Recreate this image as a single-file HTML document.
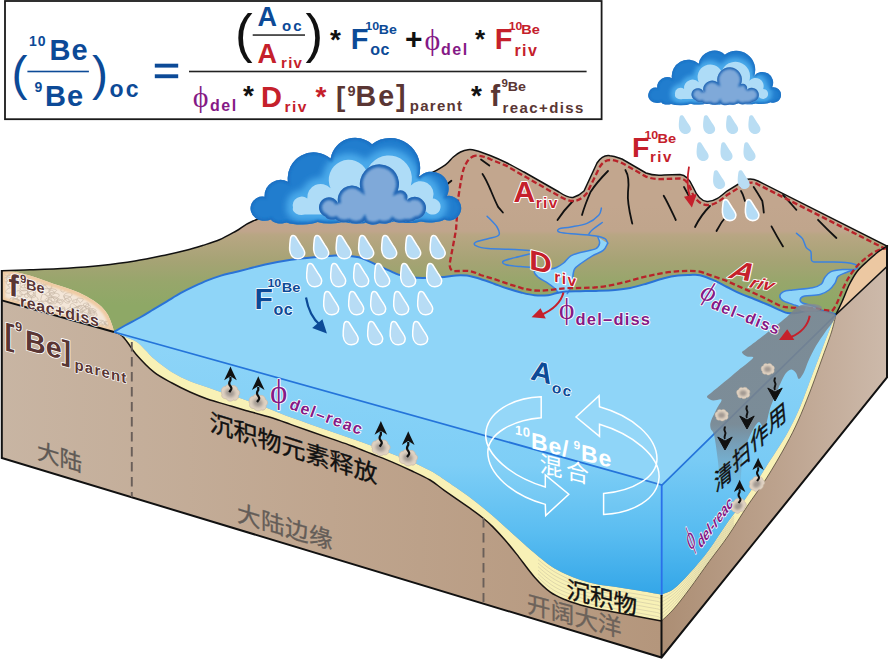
<!DOCTYPE html>
<html><head><meta charset="utf-8"><title>10Be/9Be ocean model</title>
<style>
html,body{margin:0;padding:0;background:#fff;}
body{width:889px;height:661px;overflow:hidden;}
svg{display:block;}
text{font-family:"Liberation Sans","Noto Sans CJK SC",sans-serif;}
.b{font-weight:bold;}
.bi{font-weight:bold;font-style:italic;}
.phi{font-family:"Liberation Serif","DejaVu Serif",serif;font-weight:normal;}
.ol{paint-order:stroke;stroke:#fff;stroke-width:2px;stroke-linejoin:round;}
.blue{fill:#0c4a97;} .red{fill:#c5202b;} .pur{fill:#851a86;} .brn{fill:#5a3634;}
</style></head><body>
<svg width="889" height="661" viewBox="0 0 889 661">
<defs>
<linearGradient id="gLand" gradientUnits="userSpaceOnUse" x1="0" y1="205" x2="0" y2="305">
<stop offset="0" stop-color="#c2a68e"/><stop offset="0.26" stop-color="#c0a58c"/><stop offset="0.3" stop-color="#b8a683"/><stop offset="0.57" stop-color="#a5a374"/><stop offset="0.77" stop-color="#97a66b"/><stop offset="1" stop-color="#8ea866"/></linearGradient>
<linearGradient id="gFront" gradientUnits="userSpaceOnUse" x1="0" y1="0" x2="662" y2="0">
<stop offset="0" stop-color="#c8b5a3"/><stop offset="0.5" stop-color="#bfa58e"/><stop offset="1" stop-color="#b4967c"/></linearGradient>
<linearGradient id="gRight" gradientUnits="userSpaceOnUse" x1="662" y1="0" x2="889" y2="0">
<stop offset="0" stop-color="#ac8e74"/><stop offset="0.5" stop-color="#bca28d"/><stop offset="1" stop-color="#cdbaab"/></linearGradient>
<linearGradient id="gWaterF" gradientUnits="userSpaceOnUse" x1="0" y1="330" x2="0" y2="600">
<stop offset="0" stop-color="#8fd5f8"/><stop offset="0.5" stop-color="#7ecef6"/><stop offset="0.75" stop-color="#5abdf1"/><stop offset="1" stop-color="#30a4e7"/></linearGradient>
<linearGradient id="gWaterR" gradientUnits="userSpaceOnUse" x1="0" y1="320" x2="0" y2="600">
<stop offset="0" stop-color="#8fd5f8"/><stop offset="0.5" stop-color="#79cbf5"/><stop offset="0.78" stop-color="#54baf0"/><stop offset="1" stop-color="#30a4e7"/></linearGradient>
<linearGradient id="gPlume" gradientUnits="userSpaceOnUse" x1="0" y1="300" x2="0" y2="500">
<stop offset="0" stop-color="#7a838b" stop-opacity="0.9"/><stop offset="0.62" stop-color="#7a838b" stop-opacity="0.88"/><stop offset="0.76" stop-color="#708090" stop-opacity="0.5"/><stop offset="0.95" stop-color="#6c8290" stop-opacity="0"/></linearGradient>
<filter id="bl2" x="-20%" y="-20%" width="140%" height="140%"><feGaussianBlur stdDeviation="2.2"/></filter>
<filter id="bl3" x="-20%" y="-20%" width="140%" height="140%"><feGaussianBlur stdDeviation="3.2"/></filter>
<filter id="bl1" x="-20%" y="-20%" width="140%" height="140%"><feGaussianBlur stdDeviation="1.3"/></filter>
<path id="drop" d="M-4.1,-11.5 C-2.8,-11.6 -1.8,-11 -1.2,-10 L3.7,-2.2 C6,1 7.8,3.5 7.7,5.9 C7.6,9.5 4.5,11.8 0.8,11.8 C-3,11.8 -6.6,9 -7.3,3 C-7.6,-1 -7,-5 -6.6,-8 C-6.4,-10 -5.6,-11.4 -4.1,-11.5 Z"/>
<g id="upArr"><path d="M0,0 c2,-2.6 3,-3.4 1.2,-5.6 c-1.9,-2.2 -1.6,-3.8 0,-5.8 l0,-3" fill="none" stroke="#111" stroke-width="2.1"/><path d="M-4.8,-11.5 C-3.5,-15 -0.5,-20 1.2,-24.5 C2.9,-20 5.9,-15 7.2,-11.5 L1.2,-15.2 Z" fill="#111"/></g>
<g id="dnArr"><path d="M0,-10 c-2.2,-3 2.2,-4.5 0,-7.5 c-1.6,-2.2 0,-3.4 0,-5" fill="none" stroke="#111" stroke-width="2"/><path d="M-7.2,-12 L0,-8 L7.2,-12 L0,1 Z" fill="#111" stroke="#111" stroke-width="1" stroke-linejoin="miter"/></g>
<g id="rock"><path d="M-8,0.5 C-9,-2 -7.5,-4.5 -5.5,-4.6 C-5.5,-7 -2.5,-8 -0.5,-6.6 C1.5,-8.2 5,-7.4 5.4,-4.8 C8,-4.6 9,-1.6 7.6,0.4 C8.8,3 6.8,5.6 4.2,5.2 C3,7.4 -0.8,7.6 -2,5.6 C-4.6,6.8 -7.4,5 -6.8,2.6 C-7.6,2.2 -8,1.4 -8,0.5 Z" fill="#e0d2c2" stroke="#cbb9a6" stroke-width="0.6"/><ellipse cx="-0.2" cy="-0.2" rx="4.4" ry="3.6" fill="#a39a93" filter="url(#bl1)"/></g>
<path id="cBack" d="M255.5,218 A11.8,11.8 0 0 1 264.6,196.8 A16,16 0 0 1 287.9,181.7 A26,26 0 0 1 330.6,158.5 A25,25 0 0 1 372,144.2 A30,30 0 0 1 418.5,177.9 A17,17 0 0 1 447,196 A12.3,12.3 0 1 1 444.4,219.6 A16,5 0 0 1 421,221.6 A17,5 0 0 1 395,221 A17,5 0 0 1 369.4,222 A17,5 0 0 1 343.5,221.5 A17,5 0 0 1 317.6,222 A19,5.5 0 0 1 286.6,222.5 A10,5 0 0 1 271,219.6 A10,5 0 0 1 255.5,218 Z"/>
<path id="cMid" d="M293,207.6 A9,9 0 0 1 307.3,198.6 A13.5,13.5 0 0 1 330.6,188.2 A18.5,18.5 0 0 1 366.8,171.4 A22.5,22.5 0 0 1 410.8,185.6 A13,13 0 0 1 432.8,198.6 A8,8 0 1 1 426.3,211.5 L420,214 L305,214.5 A9,6 0 0 1 293,207.6 Z"/>
<path id="cFront" d="M325.4,216.7 A10,10 0 1 1 338.3,203.7 A14.2,14.2 0 0 1 360.3,188.2 A19.6,19.6 0 1 1 397.8,190.8 A7,7 0 0 1 406.9,199.9 A11.3,11.3 0 1 1 415.9,219.3 A9,5 0 0 1 405.6,221.8 A9,5 0 0 1 392.7,220.6 A9,5 0 0 1 379.7,223 A9,5 0 0 1 364.2,220.6 A9,5 0 0 1 348.7,221.8 A9,5 0 0 1 335.7,219.3 A7,4 0 0 1 325.4,216.7 Z"/>
<clipPath id="clBack"><use href="#cBack"/></clipPath>
<clipPath id="clFront"><use href="#cFront"/></clipPath>
<g id="cloud">
 <use href="#cBack" fill="#217dce"/>
 <g clip-path="url(#clBack)"><use href="#cMid" fill="#48a9ea" stroke="#48a9ea" stroke-width="13" stroke-linejoin="round" filter="url(#bl3)"/>
 <use href="#cBack" fill="none" stroke="#1a6fc2" stroke-width="4" filter="url(#bl1)"/></g>
 <use href="#cMid" fill="#aedcf7"/>
 <use href="#cFront" fill="#7fa9d9"/>
 <g clip-path="url(#clFront)"><use href="#cFront" fill="none" stroke="#2468b6" stroke-width="6" filter="url(#bl1)"/></g>
</g>
</defs>
<rect width="889" height="661" fill="#fff"/>

<path d="M662,485 L836,314.5 L887,262 L887,377.5 L661.5,657.5 Z" fill="url(#gRight)"/>
<path d="M887,246 C885.5,247.0 881.2,249.5 878.0,252.0 C874.8,254.5 871.1,257.8 867.6,261.0 C864.1,264.2 860.3,267.4 857.3,271.2 C854.3,275.0 852.2,278.9 849.6,284.0 C847.0,289.1 844.2,296.9 841.9,302.0 C839.6,307.1 837.0,312.4 836.0,314.5  L887,266.5 Z" fill="#ecc8a2"/>
<path d="M887,266.5 L836,314.5" stroke="#111" stroke-width="1.6" fill="none"/>
<path d="M661.5,594.5 C663.5,593.6 669.1,592.5 673.7,589.0 C678.4,585.5 683.5,580.1 689.4,573.6 C695.3,567.1 702.6,558.6 709.0,550.0 C715.4,541.4 721.7,530.9 728.0,522.0 C734.3,513.1 740.7,505.8 747.0,496.6 C753.3,487.4 759.5,477.2 766.0,467.0 C772.5,456.8 780.7,444.7 786.0,435.5 C791.3,426.3 794.2,420.2 798.0,411.8 C801.8,403.4 804.7,395.0 808.5,385.0 C812.3,375.0 817.5,361.2 821.0,352.0 C824.5,342.8 827.0,336.2 829.5,330.0 C832.0,323.8 834.9,317.1 836.0,314.5  L836.0,314.5 C835.2,317.4 833.7,325.1 831.5,332.0 C829.3,338.9 826.7,345.8 823.0,356.0 C819.3,366.2 813.7,382.2 809.5,393.0 C805.3,403.8 801.9,412.3 798.0,421.0 C794.1,429.7 791.3,435.3 786.0,445.0 C780.7,454.7 772.5,468.8 766.0,479.0 C759.5,489.2 753.3,497.0 747.0,506.5 C740.7,516.0 734.3,526.8 728.0,536.0 C721.7,545.2 715.4,552.9 709.0,561.7 C702.6,570.5 695.3,581.1 689.4,589.0 C683.5,596.9 678.4,603.7 673.7,609.0 C669.1,614.3 663.5,619.0 661.5,621.0  Z" fill="#f8f1b6"/>
<path d="M661.5,621.0 C663.5,619.0 669.1,614.3 673.7,609.0 C678.4,603.7 683.5,596.9 689.4,589.0 C695.3,581.1 702.6,570.5 709.0,561.7 C715.4,552.9 721.7,545.2 728.0,536.0 C734.3,526.8 740.7,516.0 747.0,506.5 C753.3,497.0 759.5,489.2 766.0,479.0 C772.5,468.8 780.7,454.7 786.0,445.0 C791.3,435.3 794.1,429.7 798.0,421.0 C801.9,412.3 805.3,403.8 809.5,393.0 C813.7,382.2 819.3,366.2 823.0,356.0 C826.7,345.8 829.3,338.9 831.5,332.0 C833.7,325.1 835.2,317.4 836.0,314.5 " fill="none" stroke="#3a2f25" stroke-width="0.9" stroke-opacity="0.75"/>
<path d="M661.5,594.5 C663.5,593.6 669.1,592.5 673.7,589.0 C678.4,585.5 683.5,580.1 689.4,573.6 C695.3,567.1 702.6,558.6 709.0,550.0 C715.4,541.4 721.7,530.9 728.0,522.0 C734.3,513.1 740.7,505.8 747.0,496.6 C753.3,487.4 759.5,477.2 766.0,467.0 C772.5,456.8 780.7,444.7 786.0,435.5 C791.3,426.3 794.2,420.2 798.0,411.8 C801.8,403.4 804.7,395.0 808.5,385.0 C812.3,375.0 817.5,361.2 821.0,352.0 C824.5,342.8 827.0,336.2 829.5,330.0 C832.0,323.8 834.9,317.1 836.0,314.5  L662,485 Z" fill="url(#gWaterR)"/>
<path d="M1.8,270.7 L1.8,458 L661.5,657.5 L662,485 L114,332 Z" fill="url(#gFront)"/>
<path d="M114.0,332.0 C115.6,332.7 119.7,334.6 123.4,336.2 C127.1,337.8 132.4,339.4 136.0,341.6 C139.6,343.9 142.0,346.9 145.0,349.7 C148.0,352.5 149.5,354.9 154.0,358.7 C158.5,362.4 166.0,368.4 172.0,372.2 C178.0,375.9 184.0,378.6 190.0,381.2 C196.0,383.8 202.0,385.4 208.0,387.5 C214.0,389.6 220.0,391.8 226.0,393.8 C232.0,395.8 236.6,396.9 244.0,399.5 C251.4,402.1 262.4,406.2 270.2,409.2 C277.9,412.2 283.8,414.8 290.5,417.3 C297.2,419.8 303.9,422.0 310.7,424.4 C317.4,426.8 324.2,429.1 331.0,431.5 C337.8,433.9 344.4,436.2 351.2,438.6 C357.9,441.0 364.8,443.2 371.5,445.7 C378.2,448.2 384.9,451.1 391.7,453.8 C398.4,456.5 405.6,459.1 412.0,461.9 C418.4,464.7 424.6,467.6 430.0,470.5 C435.4,473.4 437.8,475.1 444.2,479.4 C450.6,483.7 460.3,490.2 468.4,496.3 C476.5,502.4 484.5,508.8 492.6,515.7 C500.7,522.6 509.7,531.2 516.8,537.5 C523.9,543.8 529.4,548.9 535.0,553.6 C540.6,558.3 545.2,562.3 550.3,565.7 C555.4,569.1 560.4,571.6 565.4,574.0 C570.4,576.4 575.5,578.4 580.5,580.0 C585.5,581.6 590.6,582.9 595.6,583.9 C600.6,584.9 604.2,585.3 610.8,586.3 C617.4,587.3 626.5,588.6 635.0,590.0 C643.5,591.4 657.1,593.8 661.5,594.5  L661.5,621.0 C657.1,620.2 643.5,617.6 635.0,616.0 C626.5,614.4 617.4,612.7 610.8,611.5 C604.2,610.3 600.6,609.9 595.6,608.8 C590.6,607.7 585.5,606.5 580.5,605.0 C575.5,603.5 570.4,601.9 565.4,599.8 C560.4,597.7 555.4,595.9 550.3,592.2 C545.2,588.5 540.6,584.1 535.0,577.8 C529.4,571.5 521.8,560.7 516.8,554.4 C511.8,548.1 509.0,544.6 505.0,540.0 C501.0,535.4 496.3,530.3 492.6,526.6 C488.9,522.9 487.0,521.2 483.0,518.0 C479.0,514.8 474.9,511.8 468.4,507.2 C461.9,502.6 450.6,494.8 444.2,490.3 C437.8,485.8 435.4,483.2 430.0,480.0 C424.6,476.8 418.4,474.0 412.0,471.0 C405.6,468.0 398.4,464.8 391.7,461.9 C384.9,459.0 378.2,456.5 371.5,453.8 C364.8,451.1 357.9,448.2 351.2,445.7 C344.4,443.2 337.8,441.0 331.0,438.6 C324.2,436.2 317.4,433.9 310.7,431.5 C303.9,429.1 297.2,426.8 290.5,424.4 C283.8,422.0 277.9,419.7 270.2,417.3 C262.4,414.9 251.4,412.1 244.0,410.0 C236.6,407.9 232.0,406.4 226.0,404.6 C220.0,402.8 214.0,401.3 208.0,399.2 C202.0,397.1 196.0,394.7 190.0,392.0 C184.0,389.3 178.0,386.3 172.0,383.0 C166.0,379.7 160.0,377.0 154.0,372.2 C148.0,367.4 140.3,359.1 136.0,354.2 C131.7,349.3 130.4,346.1 128.0,343.0 C125.6,339.9 123.9,337.1 121.6,335.3 C119.3,333.5 115.3,332.6 114.0,332.0  Z" fill="#f8f1b6"/>
<path d="M114.0,332.0 C115.3,332.6 119.3,333.5 121.6,335.3 C123.9,337.1 125.6,339.9 128.0,343.0 C130.4,346.1 131.7,349.3 136.0,354.2 C140.3,359.1 148.0,367.4 154.0,372.2 C160.0,377.0 166.0,379.7 172.0,383.0 C178.0,386.3 184.0,389.3 190.0,392.0 C196.0,394.7 202.0,397.1 208.0,399.2 C214.0,401.3 220.0,402.8 226.0,404.6 C232.0,406.4 236.6,407.9 244.0,410.0 C251.4,412.1 262.4,414.9 270.2,417.3 C277.9,419.7 283.8,422.0 290.5,424.4 C297.2,426.8 303.9,429.1 310.7,431.5 C317.4,433.9 324.2,436.2 331.0,438.6 C337.8,441.0 344.4,443.2 351.2,445.7 C357.9,448.2 364.8,451.1 371.5,453.8 C378.2,456.5 384.9,459.0 391.7,461.9 C398.4,464.8 405.6,468.0 412.0,471.0 C418.4,474.0 424.6,476.8 430.0,480.0 C435.4,483.2 437.8,485.8 444.2,490.3 C450.6,494.8 461.9,502.6 468.4,507.2 C474.9,511.8 479.0,514.8 483.0,518.0 C487.0,521.2 488.9,522.9 492.6,526.6 C496.3,530.3 501.0,535.4 505.0,540.0 C509.0,544.6 511.8,548.1 516.8,554.4 C521.8,560.7 529.4,571.5 535.0,577.8 C540.6,584.1 545.2,588.5 550.3,592.2 C555.4,595.9 560.4,597.7 565.4,599.8 C570.4,601.9 575.5,603.5 580.5,605.0 C585.5,606.5 590.6,607.7 595.6,608.8 C600.6,609.9 604.2,610.3 610.8,611.5 C617.4,612.7 626.5,614.4 635.0,616.0 C643.5,617.6 657.1,620.2 661.5,621.0 " fill="none" stroke="#1a1512" stroke-width="1.5"/>
<path d="M114.0,332.0 C115.6,332.7 119.7,334.6 123.4,336.2 C127.1,337.8 132.4,339.4 136.0,341.6 C139.6,343.9 142.0,346.9 145.0,349.7 C148.0,352.5 149.5,354.9 154.0,358.7 C158.5,362.4 166.0,368.4 172.0,372.2 C178.0,375.9 184.0,378.6 190.0,381.2 C196.0,383.8 202.0,385.4 208.0,387.5 C214.0,389.6 220.0,391.8 226.0,393.8 C232.0,395.8 236.6,396.9 244.0,399.5 C251.4,402.1 262.4,406.2 270.2,409.2 C277.9,412.2 283.8,414.8 290.5,417.3 C297.2,419.8 303.9,422.0 310.7,424.4 C317.4,426.8 324.2,429.1 331.0,431.5 C337.8,433.9 344.4,436.2 351.2,438.6 C357.9,441.0 364.8,443.2 371.5,445.7 C378.2,448.2 384.9,451.1 391.7,453.8 C398.4,456.5 405.6,459.1 412.0,461.9 C418.4,464.7 424.6,467.6 430.0,470.5 C435.4,473.4 437.8,475.1 444.2,479.4 C450.6,483.7 460.3,490.2 468.4,496.3 C476.5,502.4 484.5,508.8 492.6,515.7 C500.7,522.6 509.7,531.2 516.8,537.5 C523.9,543.8 529.4,548.9 535.0,553.6 C540.6,558.3 545.2,562.3 550.3,565.7 C555.4,569.1 560.4,571.6 565.4,574.0 C570.4,576.4 575.5,578.4 580.5,580.0 C585.5,581.6 590.6,582.9 595.6,583.9 C600.6,584.9 604.2,585.3 610.8,586.3 C617.4,587.3 626.5,588.6 635.0,590.0 C643.5,591.4 657.1,593.8 661.5,594.5  L662,485 Z" fill="url(#gWaterF)"/>
<g fill="none" stroke="#c4bd9e" stroke-width="0.5">
<path d="M538.0,559.5 C539.3,560.6 543.3,564.0 546.0,566.0 C548.7,568.0 551.3,569.9 554.0,571.5 C556.7,573.1 559.3,574.5 562.0,575.8 C564.7,577.2 567.3,578.4 570.0,579.5 C572.7,580.6 575.3,581.7 578.0,582.6 C580.7,583.5 583.3,584.2 586.0,585.0 C588.7,585.7 591.3,586.5 594.0,587.0 C596.7,587.6 599.3,588.0 602.0,588.5 C604.7,588.9 607.3,589.3 610.0,589.8 C612.7,590.2 615.3,590.6 618.0,591.0 C620.7,591.5 623.3,591.9 626.0,592.3 C628.7,592.7 631.3,593.1 634.0,593.6 C636.7,594.0 639.3,594.5 642.0,594.9 C644.7,595.4 647.3,595.8 650.0,596.3 C652.7,596.8 656.1,597.4 658.0,597.7 C659.9,598.0 659.5,598.9 661.5,598.3 C663.5,597.6 667.2,595.6 670.0,593.8 C672.8,592.0 675.3,589.9 678.0,587.5 C680.7,585.0 683.3,582.2 686.0,579.3 C688.7,576.4 691.3,573.3 694.0,570.1 C696.7,567.0 699.3,563.6 702.0,560.3 C704.7,557.0 707.3,553.8 710.0,550.2 C712.7,546.6 715.3,542.4 718.0,538.6 C720.7,534.7 723.3,530.7 726.0,526.9 C728.7,523.1 732.7,517.6 734.0,515.8 "/>
<path d="M538.0,563.0 C539.3,564.1 543.3,567.6 546.0,569.7 C548.7,571.7 551.3,573.6 554.0,575.3 C556.7,576.9 559.3,578.2 562.0,579.5 C564.7,580.9 567.3,582.0 570.0,583.1 C572.7,584.2 575.3,585.3 578.0,586.2 C580.7,587.1 583.3,587.8 586.0,588.6 C588.7,589.3 591.3,590.0 594.0,590.6 C596.7,591.2 599.3,591.6 602.0,592.1 C604.7,592.5 607.3,592.9 610.0,593.4 C612.7,593.8 615.3,594.2 618.0,594.7 C620.7,595.1 623.3,595.5 626.0,596.0 C628.7,596.4 631.3,596.8 634.0,597.3 C636.7,597.7 639.3,598.2 642.0,598.7 C644.7,599.1 647.3,599.6 650.0,600.1 C652.7,600.5 656.1,601.1 658.0,601.5 C659.9,601.8 659.5,602.8 661.5,602.1 C663.5,601.3 667.2,598.9 670.0,596.9 C672.8,595.0 675.3,592.7 678.0,590.1 C680.7,587.6 683.3,584.6 686.0,581.6 C688.7,578.6 691.3,575.5 694.0,572.2 C696.7,569.0 699.3,565.5 702.0,562.1 C704.7,558.8 707.3,555.5 710.0,551.9 C712.7,548.3 715.3,544.2 718.0,540.4 C720.7,536.6 723.3,532.7 726.0,528.9 C728.7,525.1 732.7,519.5 734.0,517.6 "/>
<path d="M538.0,566.5 C539.3,567.7 543.3,571.3 546.0,573.4 C548.7,575.5 551.3,577.4 554.0,579.0 C556.7,580.7 559.3,582.0 562.0,583.3 C564.7,584.5 567.3,585.7 570.0,586.8 C572.7,587.9 575.3,588.9 578.0,589.8 C580.7,590.7 583.3,591.4 586.0,592.1 C588.7,592.9 591.3,593.6 594.0,594.2 C596.7,594.7 599.3,595.2 602.0,595.6 C604.7,596.1 607.3,596.5 610.0,597.0 C612.7,597.4 615.3,597.9 618.0,598.3 C620.7,598.7 623.3,599.2 626.0,599.6 C628.7,600.1 631.3,600.5 634.0,601.0 C636.7,601.4 639.3,601.9 642.0,602.4 C644.7,602.9 647.3,603.3 650.0,603.8 C652.7,604.3 656.1,604.9 658.0,605.2 C659.9,605.6 659.5,606.7 661.5,605.9 C663.5,605.0 667.2,602.3 670.0,600.1 C672.8,597.9 675.3,595.5 678.0,592.8 C680.7,590.1 683.3,587.0 686.0,584.0 C688.7,580.9 691.3,577.6 694.0,574.3 C696.7,571.0 699.3,567.5 702.0,564.0 C704.7,560.6 707.3,557.2 710.0,553.6 C712.7,550.0 715.3,546.0 718.0,542.2 C720.7,538.4 723.3,534.6 726.0,530.8 C728.7,527.0 732.7,521.3 734.0,519.4 "/>
<path d="M538.0,570.1 C539.3,571.2 543.3,575.0 546.0,577.1 C548.7,579.2 551.3,581.1 554.0,582.8 C556.7,584.4 559.3,585.7 562.0,587.0 C564.7,588.2 567.3,589.4 570.0,590.4 C572.7,591.5 575.3,592.5 578.0,593.4 C580.7,594.2 583.3,595.0 586.0,595.7 C588.7,596.4 591.3,597.1 594.0,597.7 C596.7,598.3 599.3,598.7 602.0,599.2 C604.7,599.7 607.3,600.1 610.0,600.6 C612.7,601.0 615.3,601.5 618.0,601.9 C620.7,602.4 623.3,602.9 626.0,603.3 C628.7,603.8 631.3,604.2 634.0,604.7 C636.7,605.2 639.3,605.6 642.0,606.1 C644.7,606.6 647.3,607.1 650.0,607.6 C652.7,608.0 656.1,608.7 658.0,609.0 C659.9,609.4 659.5,610.6 661.5,609.6 C663.5,608.7 667.2,605.6 670.0,603.2 C672.8,600.9 675.3,598.3 678.0,595.5 C680.7,592.7 683.3,589.5 686.0,586.3 C688.7,583.1 691.3,579.8 694.0,576.4 C696.7,573.0 699.3,569.4 702.0,565.9 C704.7,562.4 707.3,558.9 710.0,555.3 C712.7,551.6 715.3,547.8 718.0,544.0 C720.7,540.3 723.3,536.6 726.0,532.8 C728.7,529.0 732.7,523.2 734.0,521.2 "/>
<path d="M538.0,573.6 C539.3,574.8 543.3,578.6 546.0,580.8 C548.7,582.9 551.3,584.9 554.0,586.5 C556.7,588.2 559.3,589.4 562.0,590.7 C564.7,591.9 567.3,593.0 570.0,594.1 C572.7,595.1 575.3,596.1 578.0,597.0 C580.7,597.8 583.3,598.5 586.0,599.3 C588.7,600.0 591.3,600.7 594.0,601.3 C596.7,601.9 599.3,602.3 602.0,602.8 C604.7,603.3 607.3,603.7 610.0,604.2 C612.7,604.6 615.3,605.1 618.0,605.6 C620.7,606.0 623.3,606.5 626.0,607.0 C628.7,607.5 631.3,607.9 634.0,608.4 C636.7,608.9 639.3,609.4 642.0,609.9 C644.7,610.3 647.3,610.8 650.0,611.3 C652.7,611.8 656.1,612.4 658.0,612.8 C659.9,613.1 659.5,614.5 661.5,613.4 C663.5,612.4 667.2,608.9 670.0,606.4 C672.8,603.8 675.3,601.1 678.0,598.2 C680.7,595.2 683.3,591.9 686.0,588.6 C688.7,585.4 691.3,581.9 694.0,578.4 C696.7,575.0 699.3,571.3 702.0,567.7 C704.7,564.2 707.3,560.6 710.0,557.0 C712.7,553.3 715.3,549.6 718.0,545.9 C720.7,542.2 723.3,538.6 726.0,534.8 C728.7,531.0 732.7,525.0 734.0,523.1 "/>
<path d="M538.0,577.1 C539.3,578.3 543.3,582.3 546.0,584.5 C548.7,586.7 551.3,588.6 554.0,590.3 C556.7,592.0 559.3,593.1 562.0,594.4 C564.7,595.6 567.3,596.7 570.0,597.7 C572.7,598.8 575.3,599.7 578.0,600.5 C580.7,601.4 583.3,602.1 586.0,602.8 C588.7,603.5 591.3,604.2 594.0,604.8 C596.7,605.4 599.3,605.9 602.0,606.4 C604.7,606.8 607.3,607.3 610.0,607.8 C612.7,608.2 615.3,608.7 618.0,609.2 C620.7,609.7 623.3,610.2 626.0,610.7 C628.7,611.1 631.3,611.6 634.0,612.1 C636.7,612.6 639.3,613.1 642.0,613.6 C644.7,614.1 647.3,614.6 650.0,615.1 C652.7,615.6 656.1,616.2 658.0,616.6 C659.9,616.9 659.5,618.4 661.5,617.2 C663.5,616.0 667.2,612.2 670.0,609.5 C672.8,606.8 675.3,603.9 678.0,600.8 C680.7,597.8 683.3,594.4 686.0,591.0 C688.7,587.6 691.3,584.1 694.0,580.5 C696.7,577.0 699.3,573.2 702.0,569.6 C704.7,565.9 707.3,562.3 710.0,558.7 C712.7,555.0 715.3,551.4 718.0,547.7 C720.7,544.0 723.3,540.5 726.0,536.7 C728.7,532.9 732.7,526.8 734.0,524.9 "/>
</g>
<path d="M1.8,270.7 C6.5,270.6 19.0,270.2 30.0,269.8 C41.0,269.4 55.7,268.9 67.5,268.2 C79.3,267.5 89.8,266.7 101.0,265.5 C112.2,264.3 124.0,262.8 135.0,261.0 C146.0,259.2 158.3,256.5 167.0,254.7 C175.7,252.9 181.3,251.5 187.2,250.0 C193.1,248.5 197.1,247.2 202.5,245.5 C207.9,243.8 213.8,242.2 219.4,239.8 C225.0,237.4 230.6,234.1 236.2,231.0 C241.8,227.9 242.4,225.5 253.0,221.0 C263.6,216.5 283.8,208.8 300.0,204.0 C316.2,199.2 333.3,195.7 350.0,192.0 C366.7,188.3 386.9,185.0 400.0,182.0 C413.1,179.0 421.1,176.8 428.7,173.9 C436.3,171.0 441.3,167.6 445.4,164.8 C449.4,162.0 450.5,159.3 453.0,157.2 C455.5,155.1 458.0,153.2 460.5,152.0 C463.0,150.8 465.5,150.0 468.0,149.7 C470.5,149.4 471.8,149.4 475.6,150.4 C479.4,151.4 485.7,153.7 490.8,155.7 C495.9,157.7 500.5,159.8 506.0,162.5 C511.5,165.2 521.0,170.4 524.0,172.0  L559,192 C565,196 570,198 573,197.5 C578,196 581,194 584,191 L597,163 C601,157 606,155 610,155.7 C615,156 619,158 622,159 L646,173 C652,175.5 658,175.5 664,175 L680,174.5 C686,175 690,180 693,187 C696,194 700,201 707,201.5 C714,202 720,197 727,191 L745,180 C750,178 754,179 758,181 L887,246 C885.5,247.0 881.2,249.5 878.0,252.0 C874.8,254.5 871.1,257.8 867.6,261.0 C864.1,264.2 860.3,267.4 857.3,271.2 C854.3,275.0 852.2,278.9 849.6,284.0 C847.0,289.1 844.2,296.9 841.9,302.0 C839.6,307.1 837.0,312.4 836.0,314.5  L114,332 Z" fill="url(#gLand)"/>
<path d="M114.0,332.0 C115.8,330.9 120.7,327.9 125.0,325.5 C129.3,323.1 135.2,320.2 140.0,317.5 C144.8,314.8 149.0,312.1 153.5,309.4 C158.0,306.7 162.5,304.0 167.0,301.3 C171.5,298.6 176.0,295.7 180.5,293.2 C185.0,290.7 189.5,288.5 194.0,286.4 C198.5,284.3 203.0,282.2 207.5,280.4 C212.0,278.6 216.5,277.0 221.0,275.6 C225.5,274.2 230.0,273.4 234.5,272.3 C239.0,271.2 242.9,270.2 248.0,268.9 C253.1,267.6 258.0,266.0 265.2,264.5 C272.4,263.0 282.4,261.1 291.0,259.8 C299.6,258.6 309.7,257.7 317.0,257.0 C324.3,256.3 330.2,255.7 335.0,255.5 C339.8,255.3 341.3,255.3 345.7,255.7 C350.1,256.1 356.2,256.5 361.5,258.1 C366.8,259.7 371.9,262.8 377.2,265.2 C382.4,267.6 389.0,270.6 393.0,272.3 C397.0,274.0 397.1,274.5 401.0,275.4 C404.9,276.3 410.1,277.5 416.6,277.8 C423.1,278.1 433.4,277.7 440.0,277.3 C446.6,276.9 451.5,275.8 456.0,275.5 C460.5,275.2 464.1,275.4 467.0,275.6 C469.9,275.9 471.4,276.4 473.7,277.0 C475.9,277.6 477.1,277.9 480.5,279.0 C483.9,280.1 489.5,282.1 494.0,283.7 C498.5,285.3 503.0,287.0 507.5,288.5 C512.0,290.0 516.5,291.4 521.0,292.5 C525.5,293.6 530.0,294.8 534.5,295.2 C539.0,295.6 544.4,295.5 548.0,295.2 C551.6,294.9 553.0,293.8 556.0,293.2 C559.0,292.6 562.0,291.8 566.0,291.5 C570.0,291.2 575.0,291.3 580.0,291.2 C585.0,291.1 590.2,291.1 596.0,290.9 C601.8,290.7 609.3,290.5 615.0,290.0 C620.7,289.5 624.7,289.1 630.0,288.0 C635.3,286.9 641.3,285.1 647.0,283.5 C652.7,281.9 658.8,279.5 664.0,278.2 C669.2,276.9 673.7,276.1 678.0,275.6 C682.3,275.1 686.3,275.1 690.0,275.0 C693.7,274.9 696.1,274.3 700.0,275.2 C703.9,276.1 709.0,278.2 713.5,280.2 C718.0,282.2 722.5,284.8 727.0,287.0 C731.5,289.2 736.0,291.7 740.5,293.7 C745.0,295.7 749.5,297.2 754.0,299.0 C758.5,300.8 763.0,302.6 767.5,304.5 C772.0,306.4 777.6,309.2 781.0,310.6 C784.4,312.0 785.2,312.6 787.7,313.0 C790.2,313.4 793.1,313.3 796.0,313.0 C798.9,312.7 802.3,311.6 805.0,311.2 C807.7,310.8 809.5,310.8 812.0,310.6 C814.5,310.5 817.3,310.1 820.0,310.3 C822.7,310.5 825.3,311.3 828.0,312.0 C830.7,312.7 834.7,314.1 836.0,314.5  L662,485 L114,332 Z" fill="#8fd5f8"/>
<g fill="none" stroke="#3b82e0" stroke-width="1.5" stroke-linecap="round" stroke-linejoin="round">
<path d="M487.1,216.2 C488.8,218.0 495.1,223.8 497.0,227.0 C498.9,230.2 500.3,233.2 498.8,235.1 C497.3,237.0 491.9,237.5 488.0,238.7 C484.1,239.9 477.3,241.1 475.4,242.3 C473.4,243.5 474.2,244.9 476.3,245.9 C478.4,246.9 481.6,248.0 488.0,248.6 C494.4,249.2 508.1,249.2 515.0,249.5 C521.9,249.8 527.0,250.2 529.4,250.4 "/>
<path d="M529.4,254.0 C527.0,254.6 519.4,256.4 515.0,257.6 C510.6,258.8 504.8,260.0 503.3,261.2 C501.8,262.4 503.1,263.9 506.0,264.8 C508.9,265.7 515.9,266.2 520.4,266.6 C524.9,267.1 530.3,266.6 533.0,267.5 C535.7,268.4 536.0,271.2 536.6,272.0 "/>
<path d="M601.4,208.1 C601.0,209.3 601.1,212.8 598.7,215.3 C596.3,217.9 591.6,221.5 587.0,223.4 C582.4,225.3 575.5,226.1 570.8,227.0 C566.1,227.9 560.8,227.9 559.0,228.8 C557.2,229.7 556.8,231.5 560.0,232.4 C563.2,233.3 572.0,233.6 578.0,234.2 C584.0,234.8 591.5,235.2 596.0,236.0 C600.5,236.8 603.0,237.5 605.0,238.7 C607.0,239.9 607.2,242.4 607.7,243.2 "/>
<path d="M602.3,222.5 C600.6,223.7 594.6,227.8 592.4,229.7 C590.1,231.6 589.4,233.4 588.8,234.2 "/>
<path d="M597.8,236.9 C598.1,237.9 599.9,241.2 599.6,243.2 C599.3,245.1 599.0,247.1 596.0,248.6 C593.0,250.1 585.8,251.0 581.6,252.2 C577.4,253.4 573.8,254.0 570.8,255.8 C567.8,257.6 566.0,261.1 563.6,263.0 C561.2,264.9 558.8,266.4 556.4,267.5 C554.0,268.6 552.8,268.7 549.2,269.3 C545.6,269.9 536.6,269.8 534.8,271.1 C533.0,272.5 536.3,275.4 538.4,277.4 C540.5,279.3 544.7,281.0 547.4,282.8 C550.1,284.6 552.8,286.6 554.6,288.2 C556.4,289.8 557.6,291.9 558.2,292.7  L567.2,293.6 C568.0,292.4 570.8,288.8 571.7,286.4 C572.6,284.0 572.2,282.0 572.6,279.2 C573.0,276.4 572.9,272.0 574.4,269.3 C575.9,266.6 578.6,265.2 581.6,263.0 C584.6,260.8 588.8,257.9 592.4,255.8 C596.0,253.7 600.7,252.5 603.2,250.4 C605.8,248.3 607.0,244.4 607.7,243.2  Z" fill="#8fd5f8" stroke="none"/>
<path d="M597.8,236.9 C598.1,237.9 599.9,241.2 599.6,243.2 C599.3,245.1 599.0,247.1 596.0,248.6 C593.0,250.1 585.8,251.0 581.6,252.2 C577.4,253.4 573.8,254.0 570.8,255.8 C567.8,257.6 566.0,261.1 563.6,263.0 C561.2,264.9 558.8,266.4 556.4,267.5 C554.0,268.6 552.8,268.7 549.2,269.3 C545.6,269.9 536.6,269.8 534.8,271.1 C533.0,272.5 536.3,275.4 538.4,277.4 C540.5,279.3 544.7,281.0 547.4,282.8 C550.1,284.6 552.8,286.6 554.6,288.2 C556.4,289.8 557.6,291.9 558.2,292.7 "/>
<path d="M607.7,243.2 C607.0,244.4 605.8,248.3 603.2,250.4 C600.7,252.5 596.0,253.7 592.4,255.8 C588.8,257.9 584.6,260.8 581.6,263.0 C578.6,265.2 575.9,266.6 574.4,269.3 C572.9,272.0 573.0,276.4 572.6,279.2 C572.2,282.0 572.6,284.0 571.7,286.4 C570.8,288.8 568.0,292.4 567.2,293.6 "/>
<path d="M796.5,233.3 C797.5,234.2 800.9,236.2 802.5,238.6 C804.1,241.0 804.9,245.5 806.3,247.7 C807.7,249.8 809.9,249.4 810.8,251.5 C811.7,253.6 810.8,258.8 811.6,260.5 C812.4,262.2 812.2,261.8 815.4,262.0 C818.5,262.2 825.5,261.9 830.5,262.0 C835.5,262.1 841.6,262.1 845.6,262.5 C849.6,262.9 852.7,263.5 854.7,264.3 C856.7,265.1 857.7,266.5 857.7,267.4 C857.7,268.3 855.2,269.2 854.7,269.6 "/>
<path d="M854.7,269.6 C852.7,269.6 846.6,269.2 842.6,269.6 C838.6,270.0 833.5,270.5 830.5,271.9 C827.5,273.3 826.0,276.0 824.5,278.0 C823.0,280.0 823.4,282.4 821.4,284.0 C819.4,285.6 817.2,286.8 812.4,287.8 C807.6,288.8 797.5,289.4 792.7,290.0 C787.9,290.6 785.8,290.6 783.6,291.6 C781.5,292.6 779.9,294.5 779.8,296.0 C779.7,297.5 780.8,299.2 782.9,300.6 C785.0,302.0 790.1,303.4 792.7,304.4 C795.3,305.4 797.3,305.6 798.7,306.7 C800.1,307.8 800.6,310.3 801.0,311.0  L820.0,310.0 C819.2,309.4 818.3,307.9 815.4,306.7 C812.5,305.5 805.0,304.3 802.5,303.0 C800.0,301.7 799.9,300.2 800.3,299.0 C800.7,297.8 801.5,296.7 804.8,296.0 C808.1,295.3 816.0,295.6 820.0,294.6 C824.0,293.6 826.5,291.9 829.0,290.0 C831.5,288.1 833.5,285.5 835.0,283.2 C836.5,280.9 836.2,278.1 838.0,276.4 C839.8,274.6 842.8,273.8 845.6,272.7 C848.4,271.6 853.2,270.1 854.7,269.6  Z" fill="#8fd5f8" stroke="none"/>
<path d="M854.7,269.6 C852.7,269.6 846.6,269.2 842.6,269.6 C838.6,270.0 833.5,270.5 830.5,271.9 C827.5,273.3 826.0,276.0 824.5,278.0 C823.0,280.0 823.4,282.4 821.4,284.0 C819.4,285.6 817.2,286.8 812.4,287.8 C807.6,288.8 797.5,289.4 792.7,290.0 C787.9,290.6 785.8,290.6 783.6,291.6 C781.5,292.6 779.9,294.5 779.8,296.0 C779.7,297.5 780.8,299.2 782.9,300.6 C785.0,302.0 790.1,303.4 792.7,304.4 C795.3,305.4 797.3,305.6 798.7,306.7 C800.1,307.8 800.6,310.3 801.0,311.0 "/>
<path d="M854.7,269.6 C853.2,270.1 848.4,271.6 845.6,272.7 C842.8,273.8 839.8,274.6 838.0,276.4 C836.2,278.1 836.5,280.9 835.0,283.2 C833.5,285.5 831.5,288.1 829.0,290.0 C826.5,291.9 824.0,293.6 820.0,294.6 C816.0,295.6 808.1,295.3 804.8,296.0 C801.5,296.7 800.7,297.8 800.3,299.0 C799.9,300.2 800.0,301.7 802.5,303.0 C805.0,304.3 812.5,305.5 815.4,306.7 C818.3,307.9 819.2,309.4 820.0,310.0 "/>
</g>
<path d="M114.0,332.0 C115.8,330.9 120.7,327.9 125.0,325.5 C129.3,323.1 135.2,320.2 140.0,317.5 C144.8,314.8 149.0,312.1 153.5,309.4 C158.0,306.7 162.5,304.0 167.0,301.3 C171.5,298.6 176.0,295.7 180.5,293.2 C185.0,290.7 189.5,288.5 194.0,286.4 C198.5,284.3 203.0,282.2 207.5,280.4 C212.0,278.6 216.5,277.0 221.0,275.6 C225.5,274.2 230.0,273.4 234.5,272.3 C239.0,271.2 242.9,270.2 248.0,268.9 C253.1,267.6 258.0,266.0 265.2,264.5 C272.4,263.0 282.4,261.1 291.0,259.8 C299.6,258.6 309.7,257.7 317.0,257.0 C324.3,256.3 330.2,255.7 335.0,255.5 C339.8,255.3 341.3,255.3 345.7,255.7 C350.1,256.1 356.2,256.5 361.5,258.1 C366.8,259.7 371.9,262.8 377.2,265.2 C382.4,267.6 389.0,270.6 393.0,272.3 C397.0,274.0 397.1,274.5 401.0,275.4 C404.9,276.3 410.1,277.5 416.6,277.8 C423.1,278.1 433.4,277.7 440.0,277.3 C446.6,276.9 451.5,275.8 456.0,275.5 C460.5,275.2 464.1,275.4 467.0,275.6 C469.9,275.9 471.4,276.4 473.7,277.0 C475.9,277.6 477.1,277.9 480.5,279.0 C483.9,280.1 489.5,282.1 494.0,283.7 C498.5,285.3 503.0,287.0 507.5,288.5 C512.0,290.0 516.5,291.4 521.0,292.5 C525.5,293.6 530.0,294.8 534.5,295.2 C539.0,295.6 544.4,295.5 548.0,295.2 C551.6,294.9 553.0,293.8 556.0,293.2 C559.0,292.6 562.0,291.8 566.0,291.5 C570.0,291.2 575.0,291.3 580.0,291.2 C585.0,291.1 590.2,291.1 596.0,290.9 C601.8,290.7 609.3,290.5 615.0,290.0 C620.7,289.5 624.7,289.1 630.0,288.0 C635.3,286.9 641.3,285.1 647.0,283.5 C652.7,281.9 658.8,279.5 664.0,278.2 C669.2,276.9 673.7,276.1 678.0,275.6 C682.3,275.1 686.3,275.1 690.0,275.0 C693.7,274.9 696.1,274.3 700.0,275.2 C703.9,276.1 709.0,278.2 713.5,280.2 C718.0,282.2 722.5,284.8 727.0,287.0 C731.5,289.2 736.0,291.7 740.5,293.7 C745.0,295.7 749.5,297.2 754.0,299.0 C758.5,300.8 763.0,302.6 767.5,304.5 C772.0,306.4 777.6,309.2 781.0,310.6 C784.4,312.0 785.2,312.6 787.7,313.0 C790.2,313.4 793.1,313.3 796.0,313.0 C798.9,312.7 802.3,311.6 805.0,311.2 C807.7,310.8 809.5,310.8 812.0,310.6 C814.5,310.5 817.3,310.1 820.0,310.3 C822.7,310.5 825.3,311.3 828.0,312.0 C830.7,312.7 834.7,314.1 836.0,314.5 " fill="none" stroke="#2a73d6" stroke-width="2"/>
<g fill="none" stroke="#111" stroke-width="1.8" stroke-linecap="round">
<path d="M447.7,183.7 L451.4,180.7"/>
<path d="M481,159.5 L489.3,165.6"/>
<path d="M482.5,173.9 C486,179 488.5,185 490.8,190.5 C493.5,197 496,203 498.3,207.2 L502.9,212.5"/>
<path d="M573,201 C567,207 562,213 557.5,220"/>
<path d="M608,171 C601,178 595,185 590.5,192 C587,200 584,208 582,215"/>
<path d="M625.4,170 C629,176 629,184 628,192 C627,203 630,214 632.3,223.6"/>
<path d="M663.7,195.7 C668,203 672,212 675.8,220"/>
<path d="M684,187 C687,192 690,198 692,203"/>
<path d="M710,206 C704,212 699,219 695,227"/>
<path d="M726.5,216 C722,221 719,226 716.5,231"/>
<path d="M741,191 C743,194 744,198 745,201"/>
<path d="M753.7,187 C757,192 760,197 762.3,201 C763,205 763.5,209 763.8,212.6"/>
<path d="M771.5,226.4 C775,233 779,240 783,246.4"/>
<path d="M783,195 C788,200 792,205 796.4,209.8"/>
<path d="M818,219.8 C824,226 830,232 836.4,238"/>
</g>
<path d="M475.6,155.7 C470,156.5 466,162 463.5,169.3 C461.5,176 460,187 458.2,198 L456,230 L449.6,264 C449.5,268 451,270.8 454,271.2 L467,270.8 C472,271 476,273 480.5,275 L494,279 L507.5,283.7 L521,287.8 C526,289.3 530,290.2 534.5,290.5 C540,290.8 544,290.6 548,290.2 C554,289.5 560,288.5 566,288.2 C576,288 585,288 594,287.5 C606,286.5 618,284 629,281 C641,277.5 652,275 663.7,273 C675,271 686,270.5 698.5,271.3 C702,271.8 705,273.5 708,274.3 L726,280.6 L744,288.7 L762,296.8 L780,305.8 C784,307 787,307.6 791,307.6 L816,308.5 L832,311.2 C835,308 837,303 839,298.5 C841.5,292 844,286 847,280.5 C850,275 854,269.5 858.5,264.5 C863,260 868,256 873,253 C877,250.5 881,249 884.5,248.5 L758,184.5 C754,182 750,182 745,184 L727,195 C720,201 714,205.5 707,205 C699,204.5 694,198 691,190 C688,182 685,179 680,178.5 L664,179 C658,179.5 652,179 646,176.6 L622,163 C618,161.5 614,160 610,160 C606,160 603,162 600,166.5 L587,193 C583,198 578,201 573,201 C569,201 564,199 559,196 L524,176 L506,165.6 L490.8,159.5 C486,157 481,155.5 475.6,155.7" fill="none" stroke="#b8232a" stroke-width="2.3" stroke-dasharray="5.5,2.8"/>
<clipPath id="clLens"><path d="M1.8,270.7 C20,271 38,278 54,284 C70,289 82,293 90,298.6 C100,304 105,310 108,315 C111,321 113,327 114,332 L1.8,300.4 Z"/></clipPath>
<path d="M1.8,270.7 C20,271 38,278 54,284 C70,289 82,293 90,298.6 C100,304 105,310 108,315 C111,321 113,327 114,332 L1.8,300.4 Z" fill="#f3e6d8"/>
<g clip-path="url(#clLens)">
<g fill="none" stroke="#c9b8a8" stroke-width="0.7">
<path d="M57.5,300.3 C57.6,301.2 56.8,302.9 55.6,303.5 C54.3,304.0 51.1,303.9 49.9,303.5 C48.6,303.1 48.2,301.9 48.1,301.0 C48.0,300.1 48.0,298.4 49.2,297.9 C50.4,297.4 54.0,297.4 55.4,297.8 C56.8,298.2 57.5,299.3 57.5,300.3 Z"/>
<path d="M69.1,301.3 C69.2,301.9 69.8,302.3 69.4,302.6 C69.1,302.9 67.6,303.2 66.8,303.1 C66.1,303.0 65.5,302.6 65.0,302.1 C64.5,301.6 63.6,300.8 63.9,300.2 C64.2,299.6 65.8,298.8 66.7,298.7 C67.5,298.5 68.5,298.9 69.0,299.4 C69.4,299.8 69.1,300.8 69.1,301.3 Z"/>
<path d="M77.0,307.0 C76.9,307.4 75.4,307.6 74.8,307.8 C74.3,307.9 74.1,308.0 73.4,308.0 C72.8,308.0 71.5,308.3 71.0,307.8 C70.5,307.4 70.0,305.9 70.3,305.1 C70.5,304.4 71.7,303.3 72.5,303.4 C73.3,303.4 74.2,304.7 75.0,305.3 C75.7,305.9 77.0,306.5 77.0,307.0 Z"/>
<path d="M29.6,304.6 C29.7,305.5 30.0,306.9 29.6,307.2 C29.2,307.5 28.2,306.6 27.2,306.4 C26.2,306.3 23.9,306.9 23.7,306.5 C23.4,306.0 25.0,304.2 25.5,303.7 C25.9,303.1 26.0,303.3 26.5,303.0 C27.1,302.7 28.5,301.6 29.0,301.9 C29.5,302.1 29.5,303.7 29.6,304.6 Z"/>
<path d="M27.8,293.1 C27.7,293.8 26.3,294.2 25.2,294.4 C24.0,294.6 21.6,294.9 20.7,294.4 C19.9,293.9 19.4,292.0 20.3,291.2 C21.1,290.5 24.8,289.8 26.1,290.1 C27.3,290.4 28.0,292.4 27.8,293.1 Z"/>
<path d="M109.6,322.8 C109.5,323.3 108.9,323.8 108.6,324.2 C108.2,324.6 108.0,325.2 107.5,325.1 C107.1,325.0 106.1,324.1 105.9,323.6 C105.6,323.2 105.7,322.9 106.0,322.4 C106.2,322.0 106.8,321.3 107.4,321.1 C108.0,320.9 109.0,321.1 109.4,321.3 C109.8,321.6 109.8,322.4 109.6,322.8 Z"/>
<path d="M55.2,312.9 C55.2,313.4 54.4,314.7 53.8,315.2 C53.3,315.7 52.7,316.3 52.0,316.1 C51.4,315.9 50.3,314.7 49.9,314.0 C49.4,313.3 48.9,312.6 49.3,312.1 C49.6,311.6 51.2,311.1 51.9,311.1 C52.6,311.1 53.1,311.7 53.6,312.0 C54.2,312.3 55.1,312.4 55.2,312.9 Z"/>
<path d="M14.7,275.2 C14.7,276.1 14.3,277.8 13.4,278.2 C12.5,278.6 10.3,277.8 9.3,277.5 C8.2,277.2 7.1,276.8 7.0,276.2 C6.9,275.7 7.9,274.8 8.9,274.2 C10.0,273.6 12.1,272.7 13.1,272.9 C14.0,273.1 14.6,274.3 14.7,275.2 Z"/>
<path d="M71.5,299.1 C71.7,299.9 70.8,301.0 69.9,301.3 C69.1,301.6 67.4,301.8 66.4,300.9 C65.5,300.1 63.7,296.9 64.1,296.1 C64.5,295.3 67.6,295.9 68.9,296.4 C70.1,296.9 71.4,298.3 71.5,299.1 Z"/>
<path d="M54.8,293.0 C54.7,293.4 54.8,293.5 54.0,294.0 C53.2,294.5 50.7,296.1 49.9,295.9 C49.2,295.8 49.7,294.0 49.5,293.2 C49.3,292.5 48.3,291.9 48.7,291.4 C49.0,290.9 50.7,290.3 51.6,290.3 C52.6,290.4 53.6,291.3 54.1,291.8 C54.6,292.2 54.8,292.6 54.8,293.0 Z"/>
<path d="M64.7,309.7 C64.5,310.5 63.6,311.5 63.1,312.0 C62.6,312.5 62.7,312.5 61.8,312.5 C60.9,312.6 58.0,312.8 57.6,312.0 C57.3,311.3 59.0,308.8 59.6,308.0 C60.2,307.2 60.3,307.5 61.1,307.3 C61.9,307.2 63.8,306.8 64.4,307.2 C65.0,307.6 64.9,308.9 64.7,309.7 Z"/>
<path d="M10.2,275.0 C10.3,275.6 8.5,275.9 7.7,276.0 C6.8,276.0 5.5,275.7 5.0,275.2 C4.5,274.7 4.3,273.5 4.8,273.0 C5.2,272.5 6.5,271.8 7.5,272.1 C8.4,272.4 10.2,274.3 10.2,275.0 Z"/>
<path d="M11.3,290.9 C11.2,291.8 10.5,293.0 9.6,293.2 C8.6,293.4 6.1,293.0 5.6,292.3 C5.2,291.7 6.2,290.1 7.0,289.4 C7.7,288.7 9.6,287.8 10.3,288.0 C11.0,288.3 11.4,290.0 11.3,290.9 Z"/>
<path d="M86.5,308.9 C86.5,309.7 85.3,310.1 84.3,310.6 C83.2,311.1 81.6,312.4 80.4,311.8 C79.3,311.3 77.6,308.3 77.6,307.2 C77.5,306.1 79.2,305.6 80.3,305.4 C81.4,305.2 83.1,305.5 84.1,306.0 C85.2,306.6 86.5,308.2 86.5,308.9 Z"/>
<path d="M62.0,309.7 C61.8,310.4 59.1,312.0 58.0,312.8 C56.9,313.7 56.4,315.1 55.5,314.9 C54.7,314.7 53.5,312.5 53.0,311.5 C52.5,310.6 52.0,310.0 52.5,309.2 C53.0,308.5 55.1,306.9 56.2,306.9 C57.2,306.8 58.1,308.3 59.1,308.8 C60.0,309.3 62.2,309.0 62.0,309.7 Z"/>
<path d="M94.3,312.1 C94.4,312.8 94.2,313.8 93.6,314.1 C93.0,314.4 91.6,314.0 90.7,313.8 C89.8,313.5 88.9,313.1 88.5,312.6 C88.1,312.0 88.1,310.8 88.2,310.4 C88.4,310.0 88.7,310.2 89.5,310.1 C90.3,310.0 92.1,309.5 92.9,309.8 C93.7,310.2 94.1,311.4 94.3,312.1 Z"/>
<path d="M73.4,310.4 C73.4,311.2 72.2,312.0 71.2,312.4 C70.3,312.7 68.4,313.2 67.9,312.6 C67.3,311.9 67.5,309.4 68.0,308.5 C68.5,307.7 70.0,307.1 70.9,307.4 C71.8,307.8 73.3,309.6 73.4,310.4 Z"/>
<path d="M81.5,309.3 C81.2,310.2 78.7,311.2 77.3,311.4 C75.9,311.7 73.8,311.2 73.2,310.7 C72.7,310.2 73.0,309.2 73.9,308.5 C74.9,307.7 77.6,306.1 78.9,306.2 C80.2,306.3 81.7,308.4 81.5,309.3 Z"/>
<path d="M49.1,298.1 C49.1,298.9 48.8,300.5 47.6,301.0 C46.3,301.5 42.5,301.4 41.4,300.8 C40.3,300.3 40.9,299.0 41.2,297.8 C41.4,296.7 41.8,294.3 42.9,294.0 C43.9,293.6 46.5,295.2 47.5,295.9 C48.6,296.6 49.1,297.2 49.1,298.1 Z"/>
<path d="M89.6,309.9 C89.8,311.1 89.3,313.0 88.2,313.3 C87.1,313.5 84.0,312.3 82.9,311.5 C81.8,310.8 81.1,309.6 81.8,308.7 C82.4,307.8 85.6,305.9 86.9,306.1 C88.2,306.3 89.4,308.7 89.6,309.9 Z"/>
<path d="M29.1,284.7 C28.8,285.8 25.4,287.6 23.9,287.9 C22.5,288.1 20.9,287.2 20.3,286.2 C19.8,285.3 20.0,283.1 20.9,282.3 C21.8,281.5 24.2,281.1 25.6,281.5 C27.0,281.9 29.4,283.6 29.1,284.7 Z"/>
<path d="M54.9,300.2 C54.9,301.0 53.5,302.4 52.7,302.8 C52.0,303.3 51.6,303.1 50.4,302.8 C49.2,302.4 46.5,301.5 45.7,300.9 C44.9,300.2 45.0,299.5 45.9,298.8 C46.8,298.2 49.9,296.9 51.1,296.7 C52.2,296.6 52.3,297.5 52.9,298.1 C53.6,298.6 55.0,299.4 54.9,300.2 Z"/>
<path d="M63.0,301.8 C62.8,302.7 61.7,304.5 60.9,304.6 C60.1,304.7 58.7,303.0 58.2,302.4 C57.8,301.8 57.4,301.5 58.2,301.0 C58.9,300.5 61.7,299.4 62.5,299.6 C63.3,299.7 63.3,301.0 63.0,301.8 Z"/>
<path d="M102.2,325.5 C102.1,326.5 102.1,328.2 101.3,328.4 C100.4,328.5 97.7,327.1 97.1,326.5 C96.5,325.9 97.1,325.3 97.8,324.7 C98.6,324.0 100.7,322.5 101.5,322.7 C102.2,322.8 102.2,324.6 102.2,325.5 Z"/>
<path d="M20.6,298.0 C20.6,298.6 20.8,299.8 20.3,300.1 C19.8,300.3 18.1,300.0 17.6,299.5 C17.1,299.0 16.8,297.6 17.3,297.1 C17.7,296.7 19.9,296.4 20.4,296.6 C21.0,296.7 20.6,297.4 20.6,298.0 Z"/>
<path d="M83.1,314.8 C82.9,315.7 81.3,316.8 80.1,317.3 C78.9,317.8 76.7,318.3 76.0,317.5 C75.3,316.8 75.1,313.8 76.0,312.9 C76.9,311.9 80.3,311.7 81.5,312.0 C82.7,312.3 83.3,313.9 83.1,314.8 Z"/>
<path d="M96.6,313.6 C97.0,314.4 97.2,315.6 96.4,316.1 C95.6,316.6 92.5,317.4 91.6,316.8 C90.6,316.2 90.8,313.5 90.6,312.5 C90.5,311.4 89.9,310.5 90.6,310.3 C91.2,310.0 93.4,310.5 94.4,311.0 C95.4,311.6 96.3,312.7 96.6,313.6 Z"/>
<path d="M95.2,314.1 C94.9,315.0 92.5,316.5 91.3,316.9 C90.0,317.2 88.4,316.9 87.9,316.2 C87.4,315.6 87.6,313.5 88.4,312.7 C89.2,312.0 91.6,311.4 92.7,311.7 C93.9,311.9 95.4,313.3 95.2,314.1 Z"/>
<path d="M43.7,311.5 C43.7,312.4 42.8,314.7 41.7,314.9 C40.7,315.0 37.9,313.4 37.3,312.7 C36.8,311.9 37.7,311.1 38.4,310.5 C39.1,310.0 40.5,309.0 41.4,309.2 C42.3,309.3 43.6,310.5 43.7,311.5 Z"/>
<path d="M38.2,299.5 C38.2,300.4 36.4,301.0 35.3,301.1 C34.3,301.3 32.6,301.1 32.0,300.5 C31.4,299.8 31.2,298.0 31.7,297.2 C32.2,296.4 33.9,295.3 35.0,295.7 C36.0,296.1 38.1,298.6 38.2,299.5 Z"/>
<path d="M96.3,310.8 C96.3,311.5 94.3,312.1 93.4,312.5 C92.5,312.9 91.8,313.0 91.0,313.1 C90.3,313.2 89.4,313.8 89.0,313.1 C88.6,312.4 88.3,309.8 88.8,309.1 C89.4,308.3 91.4,308.5 92.2,308.5 C93.1,308.4 93.0,308.4 93.7,308.8 C94.4,309.1 96.4,310.2 96.3,310.8 Z"/>
<path d="M44.2,303.9 C44.0,304.5 42.2,305.4 41.1,305.5 C40.0,305.6 37.9,305.2 37.4,304.6 C36.9,303.9 37.5,302.2 38.3,301.7 C39.0,301.3 41.0,301.3 42.0,301.7 C43.0,302.1 44.3,303.3 44.2,303.9 Z"/>
<path d="M83.4,299.1 C83.5,299.8 81.3,302.2 80.6,302.7 C79.9,303.1 79.6,302.2 79.1,301.6 C78.5,301.0 77.5,299.8 77.3,299.2 C77.1,298.6 77.4,298.3 77.9,298.1 C78.5,298.0 79.5,298.1 80.4,298.3 C81.3,298.4 83.4,298.3 83.4,299.1 Z"/>
<path d="M62.1,301.2 C62.3,301.8 61.1,302.6 60.2,302.6 C59.2,302.7 57.1,302.0 56.5,301.6 C56.0,301.1 56.6,300.5 57.0,300.0 C57.4,299.6 58.0,298.7 58.8,298.9 C59.7,299.1 61.9,300.6 62.1,301.2 Z"/>
<path d="M20.0,280.8 C20.0,281.9 20.0,283.4 19.3,283.9 C18.7,284.5 17.3,284.2 16.1,283.8 C14.9,283.5 12.8,282.8 11.9,281.9 C11.1,281.0 10.8,279.3 11.2,278.4 C11.6,277.6 13.1,276.8 14.4,276.6 C15.8,276.4 18.4,276.4 19.3,277.1 C20.2,277.8 20.0,279.6 20.0,280.8 Z"/>
<path d="M96.5,319.0 C96.7,319.7 95.9,320.6 95.1,320.9 C94.4,321.1 92.9,320.9 92.0,320.4 C91.1,319.9 89.8,318.8 89.6,318.1 C89.4,317.3 90.0,316.0 90.8,315.8 C91.5,315.6 93.2,316.2 94.2,316.7 C95.1,317.2 96.3,318.3 96.5,319.0 Z"/>
<path d="M34.3,276.5 C34.1,277.0 32.7,277.4 31.9,277.8 C31.0,278.2 29.9,278.9 29.3,279.0 C28.7,279.1 28.6,278.9 28.4,278.4 C28.3,277.8 28.2,276.5 28.7,275.9 C29.1,275.4 30.4,275.3 31.1,275.1 C31.9,274.9 32.6,274.4 33.1,274.7 C33.7,274.9 34.5,276.0 34.3,276.5 Z"/>
<path d="M82.9,309.7 C82.8,310.8 81.6,312.4 80.7,312.7 C79.9,312.9 78.3,311.9 77.7,311.1 C77.1,310.4 76.6,308.9 77.2,308.0 C77.7,307.2 80.1,305.6 81.1,305.9 C82.0,306.1 82.9,308.5 82.9,309.7 Z"/>
<path d="M56.6,290.6 C56.4,291.2 54.2,292.4 53.3,292.7 C52.5,293.1 52.2,293.0 51.5,292.7 C50.7,292.4 49.1,291.6 48.9,290.9 C48.8,290.2 49.4,289.0 50.4,288.7 C51.3,288.4 53.4,288.9 54.4,289.2 C55.5,289.5 56.8,290.0 56.6,290.6 Z"/>
<path d="M72.7,311.6 C72.9,312.4 71.2,313.3 69.7,313.4 C68.2,313.6 64.1,313.2 63.5,312.6 C63.0,312.0 65.8,310.5 66.6,309.9 C67.4,309.3 67.3,308.6 68.4,308.9 C69.4,309.2 72.4,310.9 72.7,311.6 Z"/>
<path d="M52.3,301.2 C52.1,301.7 50.6,302.4 50.1,302.8 C49.6,303.3 49.6,304.2 49.2,304.1 C48.7,304.0 47.8,302.8 47.4,302.3 C47.1,301.8 47.0,301.4 47.1,300.9 C47.2,300.4 47.4,299.5 48.0,299.4 C48.7,299.3 50.4,300.0 51.1,300.4 C51.9,300.7 52.4,300.8 52.3,301.2 Z"/>
<path d="M93.1,322.1 C93.0,323.0 92.1,324.2 91.0,324.8 C90.0,325.4 87.6,326.0 86.8,325.6 C85.9,325.2 85.6,323.7 85.8,322.6 C86.0,321.4 87.0,319.0 88.0,318.6 C88.9,318.1 90.6,319.2 91.5,319.8 C92.3,320.4 93.2,321.3 93.1,322.1 Z"/>
<path d="M18.4,300.4 C18.3,301.0 16.8,302.1 16.2,302.2 C15.5,302.3 15.0,301.4 14.5,300.9 C14.0,300.5 12.8,299.7 13.2,299.3 C13.6,298.9 16.0,298.3 16.9,298.5 C17.8,298.7 18.5,299.7 18.4,300.4 Z"/>
<path d="M59.7,308.0 C59.8,308.8 58.9,310.8 58.0,311.1 C57.1,311.5 55.1,310.7 54.4,309.9 C53.6,309.1 53.0,307.1 53.5,306.6 C54.0,306.0 56.5,306.5 57.5,306.7 C58.5,306.9 59.6,307.3 59.7,308.0 Z"/>
<path d="M64.4,316.5 C64.3,317.2 61.4,318.5 60.3,318.7 C59.2,319.0 58.3,318.7 57.9,318.2 C57.4,317.6 57.1,316.1 57.5,315.5 C58.0,315.0 59.6,314.7 60.7,314.8 C61.8,315.0 64.4,315.9 64.4,316.5 Z"/>
<path d="M66.1,311.9 C66.2,312.8 66.1,314.5 65.7,314.7 C65.2,315.0 64.2,313.8 63.3,313.5 C62.4,313.2 61.0,313.5 60.3,313.0 C59.7,312.4 59.0,310.9 59.4,310.1 C59.9,309.4 62.0,308.8 62.9,308.6 C63.9,308.5 64.4,308.8 64.9,309.3 C65.5,309.9 66.0,311.0 66.1,311.9 Z"/>
<path d="M88.4,304.5 C88.5,305.0 88.9,305.6 88.6,306.0 C88.2,306.5 87.2,307.2 86.4,307.1 C85.7,307.1 84.4,306.4 83.9,305.9 C83.5,305.3 83.3,304.3 83.6,303.8 C83.8,303.4 84.9,303.3 85.6,303.2 C86.4,303.0 87.5,302.7 88.0,303.0 C88.5,303.2 88.3,304.0 88.4,304.5 Z"/>
<path d="M43.4,281.6 C43.8,282.1 44.0,283.6 43.2,284.1 C42.3,284.5 39.4,284.3 38.5,284.3 C37.6,284.2 38.0,284.3 37.8,283.9 C37.5,283.4 36.5,282.3 36.8,281.8 C37.1,281.3 38.8,280.8 39.5,280.7 C40.3,280.5 40.5,280.8 41.1,280.9 C41.8,281.1 43.1,281.1 43.4,281.6 Z"/>
<path d="M23.0,303.0 C23.1,303.8 19.9,304.4 18.4,304.6 C17.0,304.9 15.5,305.3 14.4,304.6 C13.4,303.8 11.7,301.1 12.2,300.2 C12.7,299.4 15.6,299.1 17.4,299.5 C19.2,300.0 22.8,302.1 23.0,303.0 Z"/>
<path d="M22.3,294.5 C22.4,295.5 21.2,296.1 19.9,296.1 C18.7,296.2 15.5,295.4 14.6,294.8 C13.7,294.2 13.8,293.2 14.5,292.5 C15.3,291.8 17.9,290.3 19.2,290.6 C20.5,291.0 22.1,293.6 22.3,294.5 Z"/>
<path d="M58.3,299.3 C58.1,300.1 56.1,301.7 55.0,302.1 C54.0,302.4 52.4,301.8 51.8,301.3 C51.1,300.7 51.0,299.7 51.0,299.0 C51.0,298.2 50.9,297.0 51.8,296.7 C52.7,296.4 55.3,296.6 56.4,297.1 C57.5,297.5 58.5,298.4 58.3,299.3 Z"/>
<path d="M19.1,300.7 C19.2,301.3 17.6,302.1 16.6,302.2 C15.7,302.3 13.9,301.8 13.3,301.1 C12.8,300.4 12.9,298.2 13.3,297.8 C13.7,297.4 14.8,297.9 15.7,298.4 C16.7,298.9 18.9,300.1 19.1,300.7 Z"/>
<path d="M59.3,294.9 C59.5,295.7 58.2,297.2 57.4,297.8 C56.5,298.5 55.1,299.4 54.2,299.1 C53.2,298.7 52.0,296.6 51.4,295.7 C50.8,294.7 50.2,293.6 50.6,293.2 C51.0,292.8 52.7,293.1 53.6,293.1 C54.6,293.1 55.3,293.0 56.2,293.3 C57.2,293.6 59.1,294.1 59.3,294.9 Z"/>
<path d="M28.9,304.3 C28.8,304.8 27.8,305.8 27.2,306.1 C26.5,306.4 25.2,306.4 24.8,305.9 C24.5,305.4 24.6,303.5 25.2,303.1 C25.7,302.7 27.3,303.1 27.9,303.3 C28.6,303.5 29.0,303.9 28.9,304.3 Z"/>
<path d="M90.5,312.6 C90.7,313.5 90.2,314.2 88.7,314.6 C87.3,314.9 82.7,315.4 81.9,314.6 C81.2,313.8 83.3,310.8 84.2,309.8 C85.2,308.8 86.6,308.3 87.6,308.7 C88.7,309.2 90.3,311.6 90.5,312.6 Z"/>
<path d="M109.4,328.0 C109.4,328.6 109.3,329.4 108.6,329.5 C107.8,329.6 105.3,329.0 104.9,328.6 C104.6,328.2 106.0,327.5 106.6,327.0 C107.2,326.6 107.9,325.6 108.4,325.8 C108.8,325.9 109.4,327.3 109.4,328.0 Z"/>
<path d="M34.2,294.6 C34.0,295.5 32.0,296.9 31.0,297.1 C29.9,297.3 28.4,296.9 27.8,295.9 C27.3,295.0 27.1,292.4 27.8,291.6 C28.6,290.9 31.3,291.0 32.4,291.5 C33.4,291.9 34.4,293.6 34.2,294.6 Z"/>
<path d="M65.0,290.2 C64.8,290.9 64.0,291.8 63.4,292.0 C62.8,292.2 61.7,291.8 61.3,291.4 C60.8,291.0 60.8,290.1 60.9,289.7 C60.9,289.3 60.8,289.2 61.4,288.9 C62.0,288.6 63.9,287.9 64.5,288.1 C65.1,288.3 65.1,289.6 65.0,290.2 Z"/>
<path d="M27.2,287.4 C27.5,288.2 29.5,289.0 28.9,289.6 C28.2,290.2 24.9,290.9 23.4,290.9 C22.0,290.8 20.3,290.0 20.0,289.2 C19.8,288.3 21.5,286.3 22.1,285.7 C22.6,285.0 22.3,285.1 23.2,285.0 C24.0,284.9 26.5,284.6 27.2,285.0 C27.9,285.4 26.9,286.6 27.2,287.4 Z"/>
<path d="M105.1,323.7 C104.9,324.6 103.0,325.9 102.0,326.1 C101.1,326.3 100.1,325.3 99.3,325.0 C98.4,324.8 97.4,325.1 97.1,324.6 C96.8,324.1 97.3,322.8 97.6,322.1 C97.9,321.4 97.9,320.6 98.8,320.4 C99.8,320.1 102.5,320.2 103.5,320.8 C104.6,321.3 105.4,322.8 105.1,323.7 Z"/>
<path d="M71.9,295.2 C71.6,295.9 70.9,296.5 69.8,297.0 C68.7,297.6 66.1,298.7 65.1,298.4 C64.1,298.1 63.4,296.0 63.8,295.1 C64.2,294.2 66.1,293.3 67.4,292.9 C68.7,292.5 70.7,292.4 71.4,292.8 C72.2,293.2 72.1,294.5 71.9,295.2 Z"/>
<path d="M28.6,276.9 C28.8,277.3 29.4,278.2 29.0,278.6 C28.5,279.1 26.8,279.8 25.9,279.7 C24.9,279.6 23.7,278.7 23.3,278.1 C22.9,277.6 23.0,276.8 23.4,276.4 C23.8,275.9 25.1,275.6 25.8,275.6 C26.6,275.5 27.4,275.8 27.9,276.0 C28.3,276.3 28.4,276.5 28.6,276.9 Z"/>
<path d="M85.6,320.1 C85.8,320.8 84.7,323.1 83.7,323.4 C82.7,323.8 80.4,323.1 79.8,322.5 C79.3,321.8 80.0,320.0 80.5,319.5 C81.0,319.0 81.9,319.2 82.7,319.3 C83.6,319.4 85.5,319.5 85.6,320.1 Z"/>
<path d="M14.4,276.8 C14.4,277.9 12.9,280.9 11.8,281.6 C10.7,282.4 8.8,281.8 7.9,281.3 C6.9,280.7 6.3,279.2 6.1,278.4 C5.9,277.7 6.2,277.3 6.6,276.8 C7.0,276.3 7.8,275.6 8.6,275.3 C9.4,275.0 10.5,275.0 11.5,275.2 C12.5,275.5 14.3,275.7 14.4,276.8 Z"/>
<path d="M22.2,281.2 C22.0,282.2 21.3,283.2 20.1,283.4 C18.9,283.6 15.7,283.0 15.1,282.3 C14.4,281.6 15.1,280.0 16.1,279.3 C17.2,278.5 20.2,277.2 21.3,277.6 C22.3,277.9 22.4,280.2 22.2,281.2 Z"/>
<path d="M87.4,318.5 C87.5,319.1 86.1,319.5 85.0,319.9 C84.0,320.3 81.9,321.0 81.0,320.7 C80.2,320.3 80.0,318.8 80.0,317.8 C80.0,316.9 80.3,315.3 81.0,315.1 C81.7,314.8 83.2,315.7 84.2,316.3 C85.3,316.9 87.3,317.9 87.4,318.5 Z"/>
<path d="M84.7,319.8 C84.5,320.8 83.0,322.9 82.1,323.6 C81.3,324.3 80.7,324.1 79.7,323.9 C78.6,323.7 76.4,323.3 76.0,322.3 C75.6,321.4 76.9,319.2 77.2,318.2 C77.5,317.3 76.8,316.8 77.8,316.7 C78.7,316.6 81.6,317.1 82.8,317.7 C83.9,318.2 84.8,318.8 84.7,319.8 Z"/>
<path d="M106.7,328.4 C106.4,329.5 104.8,330.0 103.7,330.3 C102.7,330.5 101.6,330.2 100.5,329.9 C99.5,329.6 97.6,329.1 97.5,328.4 C97.3,327.8 98.8,326.4 99.5,325.8 C100.2,325.2 100.7,325.2 101.7,324.9 C102.8,324.6 104.9,323.3 105.7,323.9 C106.5,324.5 107.0,327.4 106.7,328.4 Z"/>
<path d="M8.8,278.9 C8.9,279.4 8.2,280.8 7.6,281.2 C7.0,281.7 5.7,282.0 5.1,281.7 C4.4,281.4 3.7,280.3 3.6,279.6 C3.6,278.9 4.2,278.0 4.8,277.7 C5.3,277.4 6.3,277.6 6.9,277.8 C7.6,278.0 8.7,278.3 8.8,278.9 Z"/>
<path d="M90.7,318.7 C90.2,319.7 86.9,321.4 85.5,321.7 C84.0,322.0 82.3,321.0 81.8,320.4 C81.4,319.7 81.6,318.6 82.6,317.8 C83.7,317.0 86.8,315.3 88.2,315.4 C89.5,315.6 91.1,317.6 90.7,318.7 Z"/>
<path d="M28.9,295.4 C28.6,296.2 27.7,297.8 27.0,298.0 C26.4,298.2 25.1,297.3 24.8,296.6 C24.5,295.9 24.5,294.5 25.1,293.9 C25.7,293.4 27.7,293.0 28.4,293.2 C29.0,293.5 29.1,294.6 28.9,295.4 Z"/>
<path d="M51.5,286.6 C51.4,287.4 51.2,288.2 50.0,288.5 C48.7,288.8 44.9,288.9 44.0,288.2 C43.1,287.5 43.3,285.2 44.4,284.4 C45.5,283.6 49.4,283.0 50.6,283.3 C51.8,283.7 51.6,285.7 51.5,286.6 Z"/>
<path d="M32.4,284.5 C32.5,285.3 32.1,286.8 31.6,287.6 C31.1,288.4 30.6,289.2 29.5,289.2 C28.4,289.2 25.9,288.5 25.1,287.7 C24.3,286.9 24.3,285.4 24.9,284.4 C25.4,283.4 27.4,282.1 28.5,281.9 C29.6,281.7 30.8,282.6 31.5,283.0 C32.1,283.5 32.4,283.8 32.4,284.5 Z"/>
<path d="M108.8,323.2 C108.8,323.9 108.6,325.4 108.3,325.7 C108.0,326.0 107.6,325.5 107.0,325.2 C106.3,324.8 104.9,324.3 104.5,323.7 C104.2,323.2 104.6,322.3 104.8,321.9 C105.0,321.5 105.1,321.3 105.7,321.3 C106.3,321.3 107.9,321.6 108.4,321.9 C109.0,322.2 108.8,322.6 108.8,323.2 Z"/>
<path d="M76.8,315.3 C76.6,316.2 75.4,317.3 74.6,317.6 C73.9,318.0 72.9,317.9 72.3,317.5 C71.6,317.1 71.3,315.9 70.8,315.3 C70.4,314.7 69.4,314.0 69.7,313.6 C70.0,313.2 71.6,312.8 72.6,312.7 C73.7,312.5 75.3,312.2 76.0,312.7 C76.7,313.1 77.0,314.5 76.8,315.3 Z"/>
<path d="M35.2,293.8 C35.2,294.9 35.9,296.2 35.2,296.8 C34.6,297.5 32.0,298.0 31.1,297.7 C30.2,297.5 30.5,296.0 30.0,295.3 C29.6,294.5 28.2,294.1 28.4,293.3 C28.7,292.6 30.4,291.4 31.5,290.9 C32.6,290.4 34.4,290.0 35.0,290.5 C35.7,291.0 35.2,292.8 35.2,293.8 Z"/>
<path d="M17.5,301.0 C17.3,301.5 15.5,301.8 14.7,302.3 C13.9,302.8 13.6,303.9 12.7,303.8 C11.8,303.7 9.9,302.4 9.4,301.6 C9.0,300.8 9.5,299.6 10.0,298.9 C10.5,298.3 11.6,297.9 12.5,297.9 C13.4,297.9 14.6,298.4 15.4,298.9 C16.2,299.4 17.6,300.4 17.5,301.0 Z"/>
<path d="M33.8,292.3 C33.8,292.8 34.0,293.3 33.5,293.9 C33.1,294.4 31.9,295.8 31.0,295.8 C30.2,295.8 29.2,294.8 28.6,293.8 C27.9,292.8 27.0,290.5 27.2,289.8 C27.4,289.0 28.8,289.3 29.8,289.5 C30.8,289.6 32.4,290.2 33.1,290.7 C33.8,291.1 33.7,291.7 33.8,292.3 Z"/>
<path d="M33.0,305.0 C32.9,305.6 32.1,307.1 31.4,307.4 C30.7,307.7 29.4,307.2 28.8,306.7 C28.2,306.2 27.8,304.8 27.9,304.3 C28.0,303.8 28.7,303.9 29.4,303.8 C30.2,303.6 31.5,303.3 32.1,303.5 C32.7,303.7 33.1,304.3 33.0,305.0 Z"/>
<path d="M16.9,279.5 C17.1,280.2 17.6,281.9 17.1,282.3 C16.5,282.7 14.7,282.3 13.7,282.0 C12.7,281.7 11.2,280.9 11.1,280.4 C11.0,279.8 12.5,279.3 13.1,278.7 C13.7,278.1 14.2,276.9 14.7,276.8 C15.2,276.7 15.7,277.6 16.0,278.0 C16.4,278.4 16.8,278.8 16.9,279.5 Z"/>
<path d="M13.7,285.6 C13.9,286.1 13.6,286.6 13.0,286.9 C12.4,287.1 10.8,287.2 10.0,287.1 C9.2,287.0 8.6,286.6 8.3,286.2 C8.0,285.8 8.0,285.1 8.4,284.6 C8.7,284.1 9.9,283.4 10.5,283.2 C11.1,283.0 11.4,283.1 11.9,283.5 C12.5,283.9 13.5,285.0 13.7,285.6 Z"/>
<path d="M105.8,324.4 C105.9,325.2 104.9,327.0 104.4,327.4 C103.8,327.9 103.4,327.1 102.5,327.0 C101.7,326.9 99.8,327.4 99.2,326.8 C98.6,326.2 98.5,324.5 99.0,323.6 C99.5,322.7 101.6,321.5 102.4,321.3 C103.2,321.2 103.3,322.1 103.9,322.6 C104.5,323.1 105.8,323.5 105.8,324.4 Z"/>
<path d="M50.5,281.6 C50.4,282.5 47.9,284.2 46.7,284.7 C45.4,285.3 43.8,285.2 42.9,284.9 C42.0,284.6 41.0,283.6 41.1,282.8 C41.1,282.1 42.0,281.0 43.0,280.4 C44.0,279.8 45.8,279.2 47.1,279.4 C48.3,279.6 50.6,280.8 50.5,281.6 Z"/>
<path d="M80.6,309.7 C80.7,310.3 79.5,310.4 78.6,310.8 C77.7,311.2 76.1,312.3 75.3,312.1 C74.4,311.9 73.5,310.2 73.6,309.4 C73.8,308.6 75.2,307.6 76.0,307.3 C76.7,306.9 77.2,306.7 78.0,307.1 C78.7,307.5 80.5,309.1 80.6,309.7 Z"/>
<path d="M29.5,275.9 C29.5,276.4 29.7,277.6 29.3,277.8 C29.0,277.9 28.1,277.3 27.5,277.1 C26.9,276.9 25.9,276.7 25.7,276.4 C25.5,276.1 26.1,275.8 26.5,275.5 C26.8,275.2 27.4,274.5 27.9,274.4 C28.4,274.3 29.1,274.7 29.4,275.0 C29.7,275.3 29.5,275.5 29.5,275.9 Z"/>
<path d="M90.4,306.3 C90.5,307.0 89.6,307.9 88.9,308.3 C88.3,308.7 87.2,309.0 86.6,308.7 C85.9,308.4 85.1,307.2 85.1,306.5 C85.0,305.8 85.9,305.0 86.4,304.6 C87.0,304.2 87.7,304.0 88.4,304.3 C89.0,304.6 90.3,305.7 90.4,306.3 Z"/>
<path d="M52.0,286.4 C52.0,287.1 51.4,288.6 51.0,289.1 C50.5,289.6 49.9,289.9 49.1,289.4 C48.3,289.0 46.9,287.2 46.2,286.4 C45.5,285.6 44.7,285.2 45.0,284.7 C45.2,284.1 46.7,282.9 47.7,283.0 C48.7,283.0 50.2,284.2 51.0,284.8 C51.7,285.3 52.0,285.7 52.0,286.4 Z"/>
<path d="M13.0,281.7 C13.0,282.3 12.5,283.3 11.6,283.8 C10.6,284.3 8.2,284.9 7.3,284.7 C6.5,284.4 6.2,283.2 6.4,282.3 C6.6,281.4 7.8,279.7 8.7,279.3 C9.5,279.0 10.8,279.6 11.5,280.0 C12.2,280.4 13.0,281.1 13.0,281.7 Z"/>
<path d="M50.4,294.7 C50.4,295.2 49.0,295.3 48.4,295.6 C47.9,295.9 47.6,296.5 47.1,296.3 C46.6,296.1 45.3,295.0 45.4,294.4 C45.4,293.8 46.9,292.9 47.4,292.6 C48.0,292.3 48.2,292.2 48.7,292.6 C49.2,292.9 50.5,294.2 50.4,294.7 Z"/>
<path d="M76.7,301.5 C76.8,302.1 77.4,302.8 77.1,302.9 C76.7,303.0 75.5,302.5 74.8,302.3 C74.1,302.1 72.9,302.1 72.6,301.7 C72.3,301.4 72.7,300.3 73.1,300.1 C73.5,299.8 74.3,300.2 74.8,300.0 C75.4,299.9 76.1,299.0 76.4,299.2 C76.7,299.5 76.6,300.9 76.7,301.5 Z"/>
</g>
<path d="M1.8,270.7 C20,271 38,278 54,284 C70,289 82,293 90,298.6 C100,304 105,310 108,315 C111,321 113,327 114,332 L1.8,300.4 Z" fill="none" stroke="#efcba3" stroke-width="7" filter="url(#bl1)"/>
</g>
<path d="M1.8,300.4 L114,332" stroke="#111" stroke-width="2" fill="none"/>
<path d="M114,332 L662,485 L836,314.5" fill="none" stroke="#2474da" stroke-width="1.7"/><path d="M661.7,485 L661.7,596" fill="none" stroke="#2a70ea" stroke-width="1.8"/>
<path d="M800.0,306.0 C794.5,307.2 793.0,311.9 786.8,317.0 C780.6,322.1 769.4,331.0 762.6,336.3 C755.8,341.6 749.4,346.3 746.0,349.0 C742.6,351.7 741.8,351.2 742.0,352.5 C742.2,353.8 745.2,355.6 747.0,356.5 C748.8,357.4 754.4,355.7 753.0,358.0 C751.6,360.3 743.2,366.1 738.4,370.2 C733.5,374.2 728.5,378.5 723.9,382.3 C719.3,386.1 713.8,390.6 711.0,393.0 C708.2,395.4 706.7,395.8 707.0,397.0 C707.3,398.2 710.6,400.1 713.0,400.5 C715.4,400.9 720.9,398.3 721.5,399.7 C722.1,401.1 718.4,405.4 716.6,409.0 C714.9,412.6 712.0,417.8 711.0,421.0 C710.0,424.2 710.1,425.9 710.6,428.3 C711.1,430.7 713.0,430.3 714.2,435.6 C715.4,440.9 716.8,452.3 717.8,460.0 C718.8,467.7 719.0,475.5 720.0,482.0 C721.0,488.5 720.7,496.5 724.0,499.0 C727.3,501.5 737.2,500.8 740.0,497.0 C742.8,493.2 740.5,483.0 741.0,476.0 C741.5,469.0 741.8,461.0 743.0,455.0 C744.2,449.0 746.2,444.5 748.0,440.0 C749.8,435.5 752.2,431.0 754.0,428.0 C755.8,425.0 757.5,422.2 759.0,422.0 C760.5,421.8 761.8,426.5 763.0,427.0 C764.2,427.5 764.9,428.0 766.0,425.0 C767.1,422.0 768.4,413.7 769.9,409.0 C771.4,404.3 772.7,401.7 774.7,396.8 C776.7,391.9 780.0,384.0 782.0,379.9 C784.0,375.8 785.4,373.7 787.0,372.0 C788.6,370.3 790.2,369.3 791.7,369.5 C793.2,369.7 794.8,371.4 796.0,373.0 C797.2,374.6 797.7,379.1 799.0,379.0 C800.3,378.9 802.2,375.7 803.8,372.6 C805.4,369.5 806.6,364.9 808.6,360.5 C810.6,356.1 813.1,350.8 815.9,346.0 C818.7,341.2 822.3,336.6 825.6,331.5 C828.9,326.4 836.4,319.1 835.5,315.5 C834.6,311.9 825.9,311.6 820.0,310.0 C814.1,308.4 805.5,304.8 800.0,306.0 Z" fill="url(#gPlume)"/>
<ellipse cx="810" cy="307.8" rx="12" ry="4" fill="#838a93" fill-opacity="0.8"/>
<path d="M1.8,270.7 C6.5,270.6 19.0,270.2 30.0,269.8 C41.0,269.4 55.7,268.9 67.5,268.2 C79.3,267.5 89.8,266.7 101.0,265.5 C112.2,264.3 124.0,262.8 135.0,261.0 C146.0,259.2 158.3,256.5 167.0,254.7 C175.7,252.9 181.3,251.5 187.2,250.0 C193.1,248.5 197.1,247.2 202.5,245.5 C207.9,243.8 213.8,242.2 219.4,239.8 C225.0,237.4 230.6,234.1 236.2,231.0 C241.8,227.9 242.4,225.5 253.0,221.0 C263.6,216.5 283.8,208.8 300.0,204.0 C316.2,199.2 333.3,195.7 350.0,192.0 C366.7,188.3 386.9,185.0 400.0,182.0 C413.1,179.0 421.1,176.8 428.7,173.9 C436.3,171.0 441.3,167.6 445.4,164.8 C449.4,162.0 450.5,159.3 453.0,157.2 C455.5,155.1 458.0,153.2 460.5,152.0 C463.0,150.8 465.5,150.0 468.0,149.7 C470.5,149.4 471.8,149.4 475.6,150.4 C479.4,151.4 485.7,153.7 490.8,155.7 C495.9,157.7 500.5,159.8 506.0,162.5 C511.5,165.2 521.0,170.4 524.0,172.0  L559,192 C565,196 570,198 573,197.5 C578,196 581,194 584,191 L597,163 C601,157 606,155 610,155.7 C615,156 619,158 622,159 L646,173 C652,175.5 658,175.5 664,175 L680,174.5 C686,175 690,180 693,187 C696,194 700,201 707,201.5 C714,202 720,197 727,191 L745,180 C750,178 754,179 758,181 L887,246 C885.5,247.0 881.2,249.5 878.0,252.0 C874.8,254.5 871.1,257.8 867.6,261.0 C864.1,264.2 860.3,267.4 857.3,271.2 C854.3,275.0 852.2,278.9 849.6,284.0 C847.0,289.1 844.2,296.9 841.9,302.0 C839.6,307.1 837.0,312.4 836.0,314.5 " fill="none" stroke="#111" stroke-width="1.5"/>
<path d="M1.8,270 L1.8,458 L661.5,657.5 L887,377.5 L887,245 M661.5,595 L661.5,657.5" fill="none" stroke="#111" stroke-width="2" stroke-linejoin="miter"/>
<path d="M131.8,342 L131.8,497 M483.5,518 L483.5,602" stroke="#6a5f59" stroke-width="1.9" stroke-dasharray="9.5,5.5" fill="none"/>
<use href="#cloud"/>
<use href="#cloud" transform="translate(490.5,-36.2) scale(0.63)"/>
<use href="#drop" transform="translate(297.0,247.0) scale(1.00)" fill="#b7dcf5" stroke="#fff" stroke-width="1.5"/>
<use href="#drop" transform="translate(321.0,247.0) scale(1.00)" fill="#b7dcf5" stroke="#fff" stroke-width="1.5"/>
<use href="#drop" transform="translate(343.5,247.0) scale(1.00)" fill="#b7dcf5" stroke="#fff" stroke-width="1.5"/>
<use href="#drop" transform="translate(366.0,247.0) scale(1.00)" fill="#b7dcf5" stroke="#fff" stroke-width="1.5"/>
<use href="#drop" transform="translate(389.0,247.0) scale(1.00)" fill="#b7dcf5" stroke="#fff" stroke-width="1.5"/>
<use href="#drop" transform="translate(413.0,247.0) scale(1.00)" fill="#b7dcf5" stroke="#fff" stroke-width="1.5"/>
<use href="#drop" transform="translate(437.5,247.0) scale(1.00)" fill="#b7dcf5" stroke="#fff" stroke-width="1.5"/>
<use href="#drop" transform="translate(314.0,275.0) scale(1.00)" fill="#b7dcf5" stroke="#fff" stroke-width="1.5"/>
<use href="#drop" transform="translate(338.0,275.0) scale(1.00)" fill="#b7dcf5" stroke="#fff" stroke-width="1.5"/>
<use href="#drop" transform="translate(361.0,275.0) scale(1.00)" fill="#b7dcf5" stroke="#fff" stroke-width="1.5"/>
<use href="#drop" transform="translate(382.0,275.0) scale(1.00)" fill="#b7dcf5" stroke="#fff" stroke-width="1.5"/>
<use href="#drop" transform="translate(408.0,275.0) scale(1.00)" fill="#b7dcf5" stroke="#fff" stroke-width="1.5"/>
<use href="#drop" transform="translate(434.0,275.0) scale(1.00)" fill="#b7dcf5" stroke="#fff" stroke-width="1.5"/>
<use href="#drop" transform="translate(331.0,303.0) scale(1.00)" fill="#b7dcf5" stroke="#fff" stroke-width="1.5"/>
<use href="#drop" transform="translate(356.0,303.0) scale(1.00)" fill="#b7dcf5" stroke="#fff" stroke-width="1.5"/>
<use href="#drop" transform="translate(378.0,303.0) scale(1.00)" fill="#b7dcf5" stroke="#fff" stroke-width="1.5"/>
<use href="#drop" transform="translate(401.0,303.0) scale(1.00)" fill="#b7dcf5" stroke="#fff" stroke-width="1.5"/>
<use href="#drop" transform="translate(425.0,303.0) scale(1.00)" fill="#b7dcf5" stroke="#fff" stroke-width="1.5"/>
<use href="#drop" transform="translate(350.5,333.0) scale(1.00)" fill="#b7dcf5" stroke="#fff" stroke-width="1.5"/>
<use href="#drop" transform="translate(375.0,333.0) scale(1.00)" fill="#b7dcf5" stroke="#fff" stroke-width="1.5"/>
<use href="#drop" transform="translate(397.5,333.0) scale(1.00)" fill="#b7dcf5" stroke="#fff" stroke-width="1.5"/>
<use href="#drop" transform="translate(420.0,333.0) scale(1.00)" fill="#b7dcf5" stroke="#fff" stroke-width="1.5"/>
<use href="#drop" transform="translate(684.7,124.5) scale(0.80)" fill="#b9ddf3" />
<use href="#drop" transform="translate(709.0,124.5) scale(0.80)" fill="#b9ddf3" />
<use href="#drop" transform="translate(732.0,124.5) scale(0.80)" fill="#b9ddf3" />
<use href="#drop" transform="translate(754.3,124.5) scale(0.80)" fill="#b9ddf3" />
<use href="#drop" transform="translate(702.5,151.5) scale(0.80)" fill="#b9ddf3" />
<use href="#drop" transform="translate(726.4,151.5) scale(0.80)" fill="#b9ddf3" />
<use href="#drop" transform="translate(749.4,151.5) scale(0.80)" fill="#b9ddf3" />
<use href="#drop" transform="translate(719.0,179.5) scale(0.80)" fill="#b9ddf3" />
<use href="#drop" transform="translate(743.6,179.5) scale(0.80)" fill="#b9ddf3" />
<use href="#drop" transform="translate(729.0,210.0) scale(0.90)" fill="#b4dcf6" stroke="#fff" stroke-width="1.7"/>
<use href="#drop" transform="translate(752.0,210.0) scale(0.90)" fill="#b4dcf6" stroke="#fff" stroke-width="1.7"/>
<use href="#rock" transform="translate(230.2,393.2) rotate(15) scale(1.12)"/>
<use href="#upArr" transform="translate(229.2,392.2) scale(1.05)"/>
<use href="#rock" transform="translate(258.0,403.0) rotate(15) scale(1.12)"/>
<use href="#upArr" transform="translate(257.0,402.0) scale(1.05)"/>
<use href="#rock" transform="translate(380.6,447.7) rotate(15) scale(1.12)"/>
<use href="#upArr" transform="translate(379.6,446.7) scale(1.05)"/>
<use href="#rock" transform="translate(408.0,458.0) rotate(15) scale(1.12)"/>
<use href="#upArr" transform="translate(407.0,457.0) scale(1.05)"/>
<use href="#rock" transform="translate(757.0,484.0) rotate(-40) scale(0.95)"/>
<use href="#upArr" transform="translate(757.0,481.0) scale(0.95)"/>
<use href="#rock" transform="translate(738.5,506.0) rotate(-40) scale(0.95)"/>
<use href="#upArr" transform="translate(738.5,503.0) scale(0.95)"/>
<use href="#rock" transform="translate(767.8,369.4) scale(0.8)"/>
<use href="#rock" transform="translate(743.3,393.2) scale(0.8)"/>
<use href="#rock" transform="translate(721.7,415.4) scale(0.8)"/>
<use href="#dnArr" transform="translate(775.0,400.0)"/>
<use href="#dnArr" transform="translate(747.0,428.0)"/>
<use href="#dnArr" transform="translate(725.0,449.0)"/>
<g fill="rgba(255,255,255,0.06)" stroke="#fff" stroke-width="1.5" stroke-linejoin="miter">
<path d="M541.2,396.8 C512,398 487,412 485.7,434 C485,455 512,477 545.3,487 L545.3,474.8 L568.8,494.2 L545.7,515.6 L545.3,504.4 C512,495 488,474 487.8,452.3 C488,434 512,420 541.2,417.7 Z"/>
<path d="M541.2,396.8 C512,398 487,412 485.7,434 C485,455 512,477 545.3,487 L545.3,474.8 L568.8,494.2 L545.7,515.6 L545.3,504.4 C512,495 488,474 487.8,452.3 C488,434 512,420 541.2,417.7 Z" transform="rotate(180 572.4 455.6)"/>
</g>
<path d="M306,297.5 C308,309 313,319 320,325" fill="none" stroke="#0c4a97" stroke-width="2.2"/><path d="M312.2,328 L322.4,319.2 L326.9,333.5 Z" fill="#0c4a97"/>
<path d="M563.5,292.6 C561,302 553,310 541,315" fill="none" stroke="#c5202b" stroke-width="2"/><path d="M540.5,308.3 L545.8,318.5 L531.6,317.3 Z" fill="#c5202b"/>
<path d="M689,166.6 C687,178 687,188 690,197" fill="none" stroke="#c5202b" stroke-width="1.8"/><path d="M684,196.8 L696.7,194 L691.9,207.4 Z" fill="#c5202b"/>
<path d="M809.7,315.7 C808,325 801,333 791,337" fill="none" stroke="#c5202b" stroke-width="2"/><path d="M787.2,329.2 L794.4,340 L779,340 Z" fill="#c5202b"/>
<text x="254.5" y="308.8" font-size="30.0" class="b blue ol" style="stroke-width:1.6px">F</text>
<text x="267.4" y="286.5" font-size="11.8" class="b blue ol" textLength="13.9" lengthAdjust="spacingAndGlyphs" style="stroke-width:1.4px">10</text>
<text x="281.8" y="292.0" font-size="12.6" class="b blue ol" textLength="18.6" lengthAdjust="spacingAndGlyphs" style="stroke-width:1.4px">Be</text>
<text x="273.4" y="314.8" font-size="16.0" class="b blue ol" letter-spacing="0.6" style="stroke-width:1.4px">oc</text>
<text x="632.0" y="157.4" font-size="28.5" class="b red" >F</text>
<text x="644.4" y="138.8" font-size="11.8" class="b red" textLength="13.8" lengthAdjust="spacingAndGlyphs" >10</text>
<text x="657.5" y="143.2" font-size="12.6" class="b red" textLength="18.6" lengthAdjust="spacingAndGlyphs" >Be</text>
<text x="650.0" y="162.3" font-size="15.0" class="b red" letter-spacing="1.5">riv</text>
<text x="513.5" y="202.3" font-size="30.0" class="b red ol" >A</text>
<text x="535.7" y="207.8" font-size="15.5" class="b red ol" letter-spacing="1.3">riv</text>
<g transform="translate(529.3,268.8) skewY(14)">
<text x="0.0" y="0.0" font-size="27.5" class="b red ol" textLength="22.5" lengthAdjust="spacingAndGlyphs">D</text>
<text x="25.0" y="6.5" font-size="15.5" class="b red ol" letter-spacing="1.4">riv</text>
</g>
<text x="558.8" y="319.0" font-size="30.0" class="phi pur ol" style="stroke-width:1.6px">ϕ</text>
<text x="575.6" y="324.8" font-size="16.5" class="b pur ol" letter-spacing="1.2" style="stroke-width:1.6px">del–diss</text>
<g transform="matrix(1.3,0.215,-0.7,0.97,726.5,277.5)">
<text x="0.0" y="0.0" font-size="24.0" class="b red ol" style="stroke-width:1.6px">A</text>
<text x="19.2" y="5.5" font-size="14.5" class="b red ol" style="stroke-width:1.4px">riv</text>
</g>
<g transform="translate(699.5,296) rotate(22)">
<text x="0.0" y="2.0" font-size="28.0" class="phi pur ol" style="stroke-width:1.6px;font-style:italic">ϕ</text>
<text x="14.0" y="7.0" font-size="16.0" class="b pur ol" letter-spacing="1.2" style="stroke-width:1.6px">del–diss</text>
</g>
<text x="269.9" y="402.5" font-size="33.0" class="phi pur ol" style="stroke-width:1.6px">ϕ</text>
<g transform="translate(288.5,408.5) rotate(20.3)">
<text x="0.0" y="0.0" font-size="16.0" class="b pur ol" letter-spacing="1.6" style="stroke-width:1.6px">del–reac</text>
</g>
<g transform="matrix(0.369,-0.498,0.355,0.935,690.6,551.6)">
<text x="0.0" y="0.0" font-size="31.0" class="phi pur ol" style="stroke-width:1.6px">ϕ</text>
</g>
<g transform="matrix(0.541,-0.731,0.367,0.93,700.4,549.2)">
<text x="0.0" y="0.0" font-size="15.8" class="b pur ol" style="stroke-width:1.5px">del-reac</text>
</g>
<g transform="translate(531,379.5) skewY(14)">
<text x="0.0" y="0.0" font-size="29.0" class="bi blue ol" style="stroke-width:1.4px">A</text>
<text x="21.0" y="7.5" font-size="15.0" class="bi blue ol" letter-spacing="1.5" style="stroke-width:1.4px">oc</text>
</g>
<g transform="translate(515,434) skewY(13.5)" fill="#fff">
<text x="0.0" y="0.0" font-size="13.0" class="b" letter-spacing="0.5">10</text>
<text x="16.0" y="10.5" font-size="23.0" class="b" letter-spacing="0.8">Be/</text>
<text x="58.5" y="0.5" font-size="12.0" class="b" >9</text>
<text x="66.0" y="10.5" font-size="23.0" class="b" letter-spacing="0.8">Be</text>
</g>
<g transform="translate(539.5,471.5) skewY(14)" fill="#fff">
<text x="0.0" y="0.0" font-size="23.0" class="" letter-spacing="3.5">混合</text>
</g>
<g transform="translate(37,458.5) skewY(16.7)" fill="#5e5955" stroke="#5e5955" stroke-width="0.3">
<text x="0.0" y="0.0" font-size="22.5" class="" >大陆</text>
</g>
<g transform="translate(237,521) skewY(16.7)" fill="#645d58" stroke="#645d58" stroke-width="0.3">
<text x="0.0" y="0.0" font-size="23.5" class="" letter-spacing="0.5">大陆边缘</text>
</g>
<g transform="translate(527,612) skewY(15)" fill="#6c625a" stroke="#6c625a" stroke-width="0.3">
<text x="0.0" y="0.0" font-size="23.5" class="" letter-spacing="0.2">开阔大洋</text>
</g>
<g transform="translate(566.5,597.5) skewY(14)" fill="#111" stroke="#111" stroke-width="0.35">
<text x="0.0" y="0.0" font-size="23.5" class="" >沉积物</text>
</g>
<g transform="translate(209.5,430.5) skewY(17.5)" fill="#111" stroke="#111" stroke-width="0.35">
<text x="0.0" y="0.0" font-size="24.0" class="" letter-spacing="0">沉积物元素释放</text>
</g>
<g transform="matrix(0.75,-0.62,0.1,1,715.5,492.3)" fill="#111" stroke="#111" stroke-width="0.5">
<text x="0 24.6 49.2 73.8" y="0 -4.45 -8.9 -13.35" font-size="23.5">清扫作用</text>
</g>
<g transform="translate(8.5,295) skewY(14.6)">
<text x="0.0" y="0.0" font-size="31.0" class="b brn ol" style="stroke-width:1.6px">f</text>
<text x="11.5" y="-16.0" font-size="11.5" class="b brn ol" style="stroke-width:1.3px">9</text>
<text x="17.5" y="-10.5" font-size="14.5" class="b brn ol" style="stroke-width:1.4px">Be</text>
<text x="11.5" y="8.3" font-size="16.0" class="b brn ol" letter-spacing="0.6" style="stroke-width:1.4px">reac+diss</text>
</g>
<g transform="translate(4.5,344) skewY(15.1)">
<text x="0.0" y="0.0" font-size="30.0" class="b brn ol" style="stroke-width:1.6px">[</text>
<text x="10.5" y="-16.5" font-size="13.0" class="b brn ol" style="stroke-width:1.4px">9</text>
<text x="20.5" y="0.0" font-size="28.6" class="b brn ol" style="stroke-width:1.6px">Be]</text>
<text x="70.0" y="6.4" font-size="15.0" class="b brn ol" letter-spacing="1.2" style="stroke-width:1.4px">parent</text>
</g>
<rect x="5" y="1" width="596.6" height="118.2" fill="#fff" stroke="#1a1a1a" stroke-width="1.8"/>
<text x="11.5" y="90.0" font-size="48.0" class="blue" >(</text>
<text x="92.0" y="90.0" font-size="48.0" class="blue" >)</text>
<text x="29.0" y="46.0" font-size="14.0" class="b blue" letter-spacing="1">10</text>
<text x="49.5" y="60.3" font-size="29.0" class="b blue" letter-spacing="1">Be</text>
<rect x="27.4" y="70.7" width="61.5" height="1.6" fill="#0c4a97"/>
<text x="34.5" y="92.0" font-size="14.0" class="b blue" >9</text>
<text x="45.0" y="105.7" font-size="29.0" class="b blue" letter-spacing="1">Be</text>
<text x="109.6" y="97.2" font-size="23.0" class="b blue" letter-spacing="2">oc</text>
<rect x="154.8" y="63.7" width="23.4" height="3.9" fill="#0c4a97"/><rect x="154.8" y="74.3" width="23.4" height="3.9" fill="#0c4a97"/>
<rect x="189" y="70.7" width="397.6" height="1.6" fill="#222"/>
<text x="235.0" y="52.0" font-size="53.0" class="" fill="#111">(</text>
<text x="305.5" y="52.0" font-size="53.0" class="" fill="#111">)</text>
<text x="257.5" y="26.0" font-size="27.0" class="b blue" >A</text>
<text x="282.0" y="31.0" font-size="15.0" class="b blue" letter-spacing="2.2">oc</text>
<rect x="252.7" y="34.3" width="52.3" height="1.5" fill="#222"/>
<text x="257.5" y="62.5" font-size="27.0" class="b red" >A</text>
<text x="281.0" y="67.5" font-size="15.0" class="b red" letter-spacing="1.3">riv</text>
<text x="330.0" y="48.5" font-size="28.0" class="b" fill="#111">*</text>
<text x="350.8" y="49.3" font-size="29.0" class="b blue" >F</text>
<text x="365.3" y="29.8" font-size="11.8" class="b blue" textLength="13.8" lengthAdjust="spacingAndGlyphs" >10</text>
<text x="378.8" y="34.2" font-size="12.6" class="b blue" textLength="18.0" lengthAdjust="spacingAndGlyphs" >Be</text>
<text x="370.2" y="55.4" font-size="16.0" class="b blue" letter-spacing="0.5">oc</text>
<text x="405.0" y="48.8" font-size="30.0" class="b" fill="#111">+</text>
<text x="424.5" y="49.7" font-size="30.0" class="phi pur" >ϕ</text>
<text x="441.0" y="55.0" font-size="16.0" class="b pur" letter-spacing="1.6">del</text>
<text x="475.0" y="47.5" font-size="26.0" class="b" fill="#111">*</text>
<text x="494.7" y="49.1" font-size="29.0" class="b red" >F</text>
<text x="508.8" y="30.0" font-size="11.8" class="b red" textLength="13.6" lengthAdjust="spacingAndGlyphs" >10</text>
<text x="521.2" y="34.3" font-size="12.6" class="b red" textLength="18.6" lengthAdjust="spacingAndGlyphs" >Be</text>
<text x="514.4" y="55.8" font-size="16.0" class="b red" letter-spacing="1.5">riv</text>
<text x="192.7" y="107.0" font-size="30.0" class="phi pur" >ϕ</text>
<text x="210.0" y="111.4" font-size="16.0" class="b pur" letter-spacing="1.6">del</text>
<text x="243.0" y="105.0" font-size="28.0" class="b" fill="#111">*</text>
<text x="261.0" y="107.3" font-size="29.0" class="b red" >D</text>
<text x="284.5" y="112.0" font-size="15.5" class="b red" letter-spacing="1.4">riv</text>
<text x="315.5" y="105.5" font-size="28.0" class="b red" >*</text>
<text x="336.0" y="106.3" font-size="28.0" class="b brn" >[</text>
<text x="347.5" y="96.0" font-size="14.5" class="b brn" >9</text>
<text x="355.5" y="106.3" font-size="28.6" class="b brn" letter-spacing="2">Be]</text>
<text x="409.8" y="110.9" font-size="15.0" class="b brn" letter-spacing="1.25">parent</text>
<text x="471.0" y="105.0" font-size="28.0" class="b" fill="#111">*</text>
<text x="490.5" y="106.3" font-size="29.0" class="b brn" >f</text>
<text x="501.5" y="86.7" font-size="11.5" class="b brn" >9</text>
<text x="507.8" y="90.9" font-size="13.3" class="b brn" textLength="18.2" lengthAdjust="spacingAndGlyphs">Be</text>
<text x="502.6" y="112.5" font-size="15.0" class="b brn" letter-spacing="1.4">reac+diss</text>
</svg></body></html>
